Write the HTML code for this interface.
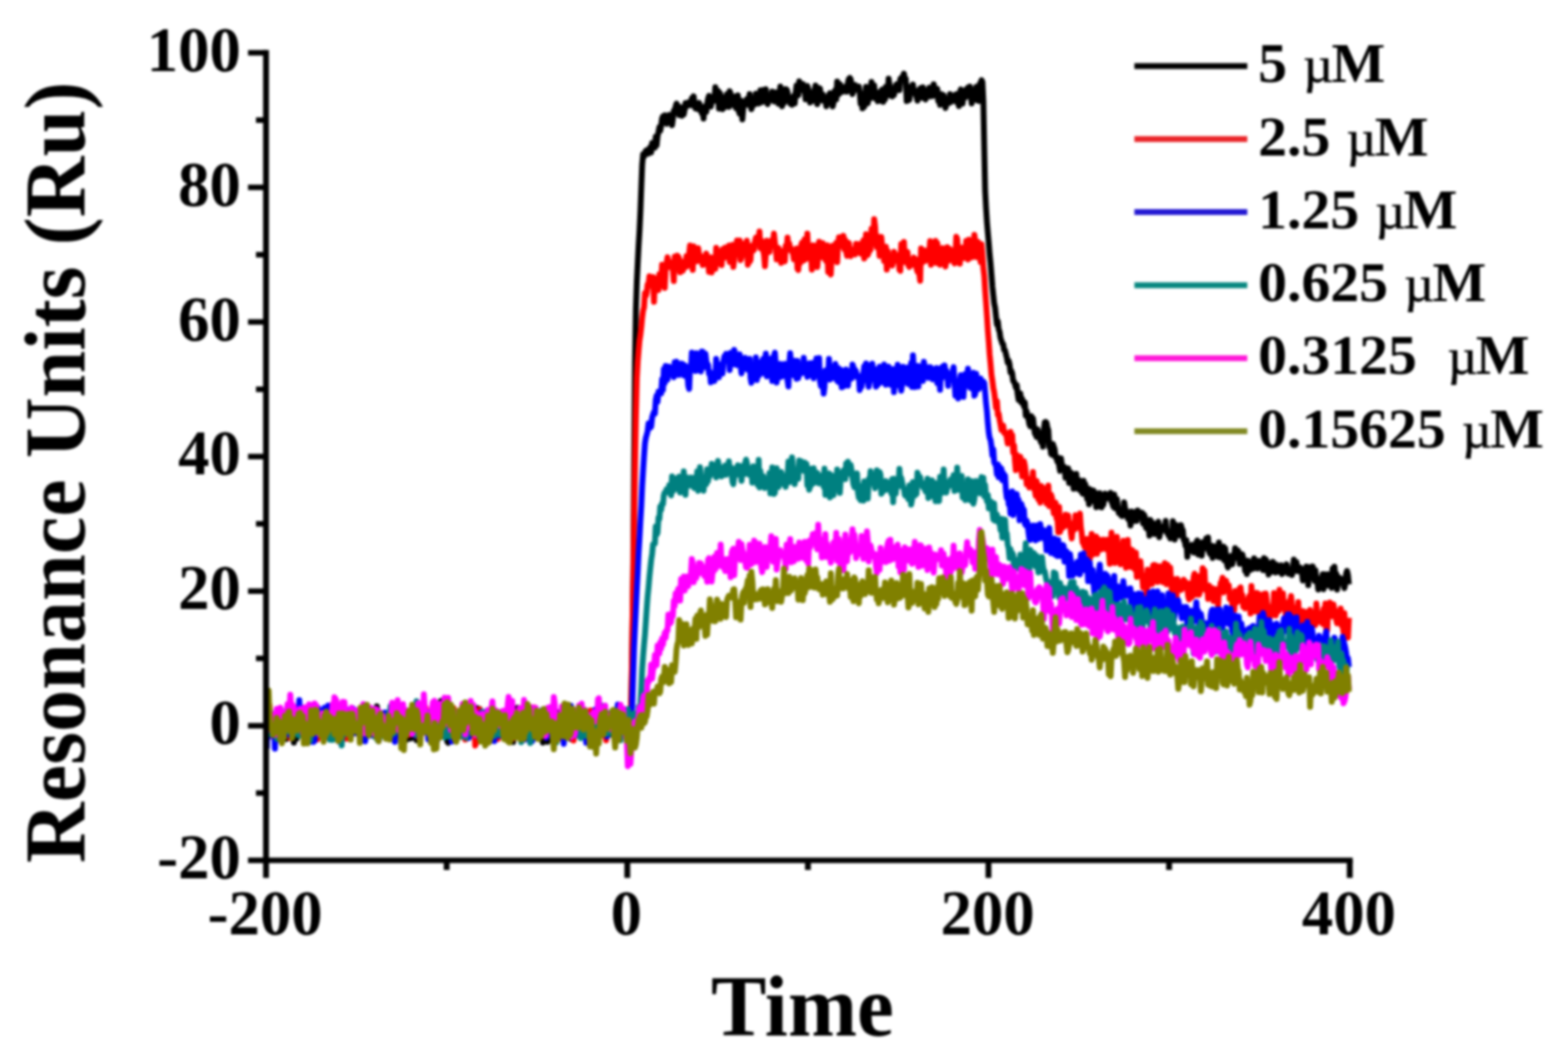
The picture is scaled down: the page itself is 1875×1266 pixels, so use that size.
<!DOCTYPE html>
<html lang="en">
<head>
<meta charset="utf-8">
<title>Resonance Units vs Time</title>
<style>
html,body{margin:0;padding:0;background:#fff;}
body{width:1875px;height:1266px;overflow:hidden;}
svg{display:block;filter:blur(1.5px);}
text{font-family:"Liberation Serif",serif;font-weight:bold;fill:#000;}
.tick{font-size:75px;}
.lab{font-size:100px;}
.leg{font-size:69px;}
.legm{font-size:68px;}
.mu{font-size:62px;font-weight:normal;stroke:#000;stroke-width:0.7px;}
.ax{stroke:#000;stroke-width:7;fill:none;stroke-linecap:butt;}
.tk{stroke:#000;stroke-width:6.6;fill:none;stroke-linecap:butt;}
.cv{fill:none;stroke-width:7;stroke-linejoin:round;stroke-linecap:butt;}
</style>
</head>
<body>
<svg width="1875" height="1266" viewBox="0 0 1875 1266">
<rect x="0" y="0" width="1875" height="1266" fill="#ffffff"/>
<g id="curves">
<polyline class="cv" stroke="#000000" points="319.0,862.4 320.1,867.2 321.2,862.6 322.2,847.7 323.3,868.7 324.4,865.0 325.5,855.9 326.6,867.0 327.6,865.1 328.7,865.6 329.8,863.8 330.9,869.5 332.0,858.0 333.0,863.7 334.1,861.4 335.2,872.6 336.3,868.4 337.3,866.3 338.4,861.9 339.5,867.0 340.6,870.2 341.7,868.1 342.7,883.4 343.8,881.3 344.9,851.3 346.0,856.1 347.1,870.8 348.1,868.4 349.2,874.4 350.3,873.7 351.4,887.8 352.5,858.5 353.5,863.9 354.6,883.3 355.7,871.0 356.8,870.4 357.9,858.9 358.9,849.0 360.0,866.0 361.1,865.6 362.2,852.7 363.2,856.6 364.3,862.2 365.4,853.7 366.5,861.3 367.6,862.6 368.6,861.9 369.7,856.2 370.8,867.4 371.9,871.3 373.0,867.6 374.0,858.5 375.1,875.3 376.2,865.5 377.3,881.0 378.4,863.7 379.4,883.5 380.5,874.9 381.6,862.8 382.7,869.8 383.8,871.6 384.8,872.1 385.9,858.9 387.0,856.5 388.1,868.6 389.1,861.8 390.2,868.9 391.3,874.4 392.4,853.3 393.5,870.4 394.5,879.7 395.6,865.4 396.7,861.0 397.8,876.3 398.9,871.1 399.9,876.8 401.0,864.5 402.1,854.1 403.2,865.3 404.3,860.1 405.3,871.3 406.4,864.1 407.5,846.4 408.6,849.6 409.7,868.5 410.7,867.3 411.8,855.4 412.9,862.7 414.0,868.0 415.0,869.3 416.1,874.1 417.2,869.7 418.3,867.3 419.4,865.4 420.4,878.6 421.5,850.8 422.6,868.4 423.7,870.5 424.8,856.5 425.8,872.3 426.9,862.5 428.0,877.1 429.1,866.6 430.2,874.2 431.2,878.6 432.3,870.5 433.4,859.1 434.5,854.8 435.6,884.3 436.6,867.8 437.7,863.7 438.8,872.3 439.9,869.1 440.9,879.5 442.0,871.0 443.1,870.2 444.2,861.7 445.3,872.5 446.3,856.6 447.4,871.9 448.5,878.7 449.6,850.5 450.7,844.4 451.7,869.5 452.8,884.6 453.9,856.1 455.0,854.0 456.1,871.9 457.1,857.8 458.2,860.3 459.3,860.8 460.4,868.1 461.5,857.2 462.5,863.3 463.6,858.9 464.7,853.3 465.8,860.6 466.9,856.5 467.9,867.3 469.0,858.5 470.1,859.8 471.2,883.7 472.2,869.2 473.3,869.3 474.4,873.9 475.5,863.5 476.6,864.6 477.6,871.0 478.7,869.1 479.8,855.2 480.9,874.1 482.0,860.0 483.0,856.5 484.1,858.8 485.2,864.9 486.3,884.3 487.4,859.7 488.4,874.0 489.5,855.4 490.6,874.2 491.7,882.8 492.8,871.4 493.8,867.1 494.9,874.3 496.0,877.3 497.1,875.3 498.1,885.0 499.2,869.8 500.3,860.6 501.4,864.6 502.5,865.3 503.5,867.8 504.6,865.8 505.7,867.9 506.8,850.1 507.9,872.1 508.9,857.4 510.0,850.7 511.1,867.7 512.2,873.4 513.3,866.9 514.3,864.0 515.4,854.7 516.5,885.6 517.6,873.8 518.7,854.6 519.7,857.2 520.8,865.6 521.9,849.6 523.0,864.2 524.0,856.1 525.1,871.5 526.2,867.8 527.3,837.9 528.4,859.7 529.4,846.3 530.5,873.3 531.6,866.5 532.7,871.9 533.8,858.7 534.8,886.4 535.9,888.0 537.0,860.8 538.1,874.6 539.2,863.5 540.2,869.7 541.3,857.4 542.4,885.5 543.5,860.2 544.6,865.8 545.6,873.5 546.7,861.9 547.8,865.9 548.9,863.1 549.9,867.9 551.0,858.1 552.1,865.4 553.2,868.5 554.3,867.5 555.3,871.4 556.4,867.6 557.5,878.5 558.6,867.8 559.7,871.1 560.7,866.7 561.8,868.4 562.9,862.2 564.0,878.3 565.1,861.8 566.1,863.1 567.2,872.3 568.3,870.9 569.4,860.9 570.5,846.4 571.5,866.2 572.6,863.9 573.7,847.8 574.8,868.3 575.8,854.5 576.9,851.3 578.0,864.0 579.1,862.7 580.2,867.4 581.2,852.2 582.3,883.0 583.4,861.9 584.5,854.1 585.6,874.8 586.6,865.3 587.7,871.4 588.8,865.3 589.9,868.3 591.0,871.4 592.0,862.5 593.1,877.5 594.2,867.3 595.3,864.5 596.4,874.9 597.4,878.0 598.5,870.6 599.6,864.4 600.7,877.2 601.8,854.1 602.8,859.7 603.9,869.1 605.0,856.0 606.1,869.1 607.1,868.7 608.2,878.1 609.3,860.5 610.4,862.7 611.5,870.8 612.5,846.7 613.6,887.1 614.7,857.2 615.8,856.0 616.9,870.2 617.9,861.5 619.0,845.9 620.1,867.9 621.2,871.0 622.3,859.2 623.3,861.7 624.4,869.6 625.5,856.9 626.6,869.9 627.7,866.9 628.7,857.7 629.8,849.9 630.9,859.9 632.0,852.3 633.0,868.7 634.1,860.2 635.2,866.0 636.3,859.4 637.4,862.0 638.4,853.4 639.5,870.0 640.6,882.0 641.7,866.5 642.8,866.2 643.8,873.2 644.9,871.4 646.0,870.2 647.1,877.4 648.2,872.5 649.2,887.8 650.3,874.5 651.4,877.3 652.5,883.0 653.6,870.8 654.6,886.9 655.7,867.0 656.8,865.5 657.9,869.7 658.9,871.5 660.0,859.4 661.1,871.3 662.2,856.4 663.3,882.5 664.3,867.6 665.4,860.2 666.5,855.9 667.6,859.6 668.7,859.6 669.7,851.1 670.8,851.0 671.9,858.2 673.0,855.0 674.1,869.5 675.1,872.0 676.2,862.9 677.3,868.9 678.4,853.6 679.5,872.8 680.5,867.6 681.6,873.8 682.7,883.3 683.8,850.2 684.8,870.9 685.9,857.7 687.0,873.1 688.1,854.7 689.2,861.2 690.2,867.7 691.3,871.4 692.4,866.0 693.5,858.0 694.6,860.9 695.6,875.3 696.7,867.6 697.8,853.7 698.9,878.4 700.0,875.6 701.0,879.8 702.1,867.9 703.2,879.4 704.3,861.4 705.4,875.7 706.4,864.9 707.5,875.9 708.6,878.1 709.7,860.2 710.7,865.8 711.8,865.3 712.9,875.2 714.0,869.3 715.1,849.5 716.1,864.6 717.2,867.3 718.3,878.1 719.4,845.8 720.5,855.8 721.5,873.3 722.6,849.1 723.7,849.9 724.8,866.0 725.9,870.8 726.9,854.5 728.0,866.8 729.1,864.0 730.2,877.9 731.3,865.4 732.3,875.6 733.4,857.9 734.5,865.5 735.6,866.8 736.7,877.6 737.7,871.2 738.8,858.5 739.9,871.5 741.0,871.7 742.0,863.5 743.1,862.7 744.2,864.2 745.3,852.8 746.4,870.0 747.4,871.5 748.5,860.7 749.6,876.4 750.7,858.6 751.8,861.6 752.8,859.9 753.9,861.4 755.0,832.9 756.1,766.9 757.2,688.0 758.2,565.1 759.3,433.7 760.4,369.2 761.5,336.9 762.6,314.3 763.6,294.5 764.7,276.1 765.8,252.6 766.9,222.9 767.9,197.4 769.0,184.6 770.1,187.2 771.2,182.7 772.3,180.3 773.3,181.2 774.4,179.2 775.5,183.7 776.6,181.2 777.7,175.8 778.7,182.2 779.8,171.1 780.9,174.3 782.0,173.1 783.1,176.4 784.1,163.4 785.2,173.6 786.3,162.7 787.4,157.7 788.5,152.1 789.5,156.4 790.6,150.4 791.7,141.4 792.8,139.1 793.8,140.2 794.9,137.8 796.0,147.0 797.1,148.0 798.2,145.2 799.2,142.0 800.3,137.3 801.4,139.8 802.5,144.6 803.6,149.7 804.6,142.2 805.7,132.6 806.8,132.7 807.9,127.5 809.0,123.8 810.0,126.4 811.1,128.5 812.2,137.6 813.3,128.1 814.4,136.4 815.4,138.4 816.5,128.4 817.6,136.8 818.7,131.1 819.7,123.3 820.8,127.4 821.9,125.1 823.0,122.5 824.1,122.2 825.1,123.8 826.2,125.8 827.3,117.5 828.4,123.3 829.5,115.1 830.5,126.6 831.6,129.7 832.7,127.1 833.8,127.9 834.9,130.5 835.9,122.9 837.0,126.2 838.1,131.7 839.2,135.4 840.3,131.5 841.3,141.7 842.4,127.5 843.5,133.1 844.6,133.6 845.6,123.8 846.7,118.1 847.8,114.7 848.9,122.5 850.0,127.4 851.0,121.3 852.1,119.8 853.2,115.3 854.3,120.6 855.4,104.2 856.4,117.5 857.5,116.3 858.6,108.7 859.7,129.9 860.8,111.0 861.8,114.3 862.9,115.3 864.0,130.5 865.1,118.1 866.2,128.4 867.2,127.1 868.3,123.5 869.4,112.5 870.5,115.0 871.6,127.7 872.6,109.1 873.7,112.1 874.8,117.2 875.9,124.3 876.9,122.4 878.0,126.4 879.1,115.6 880.2,129.2 881.3,127.5 882.3,114.1 883.4,132.8 884.5,136.0 885.6,119.9 886.7,128.4 887.7,142.7 888.8,129.3 889.9,124.4 891.0,121.0 892.1,120.2 893.1,118.3 894.2,125.3 895.3,122.6 896.4,112.5 897.5,123.7 898.5,130.5 899.6,126.7 900.7,125.3 901.8,119.1 902.8,124.7 903.9,112.0 905.0,123.0 906.1,116.7 907.2,123.7 908.2,118.7 909.3,108.0 910.4,115.2 911.5,122.1 912.6,107.6 913.6,111.2 914.7,110.0 915.8,106.6 916.9,122.5 918.0,124.4 919.0,120.9 920.1,117.0 921.2,114.2 922.3,115.8 923.4,109.5 924.4,120.2 925.5,121.2 926.6,120.1 927.7,110.4 928.7,114.3 929.8,112.5 930.9,124.0 932.0,115.1 933.1,103.6 934.1,117.8 935.2,127.0 936.3,121.6 937.4,123.2 938.5,117.7 939.5,106.6 940.6,107.0 941.7,110.0 942.8,117.4 943.9,121.0 944.9,123.7 946.0,117.2 947.1,125.3 948.2,117.4 949.3,114.5 950.3,123.6 951.4,111.2 952.5,102.2 953.6,108.0 954.6,114.1 955.7,97.2 956.8,108.1 957.9,107.3 959.0,100.5 960.0,100.4 961.1,106.4 962.2,106.9 963.3,118.8 964.4,114.5 965.4,102.8 966.5,106.5 967.6,116.7 968.7,122.5 969.8,113.3 970.8,112.3 971.9,120.7 973.0,109.4 974.1,108.0 975.2,102.3 976.2,108.5 977.3,124.6 978.4,105.0 979.5,113.9 980.5,105.7 981.6,115.5 982.7,120.2 983.8,112.6 984.9,119.7 985.9,120.5 987.0,119.2 988.1,127.1 989.2,122.9 990.3,116.1 991.3,113.3 992.4,111.5 993.5,119.0 994.6,113.0 995.7,127.3 996.7,122.7 997.8,109.4 998.9,107.6 1000.0,118.8 1001.1,97.4 1002.1,104.5 1003.2,112.8 1004.3,100.4 1005.4,103.1 1006.5,103.8 1007.5,109.8 1008.6,105.7 1009.7,106.6 1010.8,107.4 1011.8,103.1 1012.9,109.6 1014.0,98.3 1015.1,94.3 1016.2,93.2 1017.2,94.7 1018.3,101.2 1019.4,112.4 1020.5,108.2 1021.6,103.6 1022.6,101.6 1023.7,105.5 1024.8,107.4 1025.9,107.6 1027.0,103.5 1028.0,110.7 1029.1,123.9 1030.2,112.2 1031.3,129.5 1032.4,120.8 1033.4,128.0 1034.5,114.9 1035.6,103.7 1036.7,114.7 1037.7,123.5 1038.8,113.1 1039.9,118.4 1041.0,110.1 1042.1,98.1 1043.1,113.3 1044.2,107.6 1045.3,101.9 1046.4,117.6 1047.5,115.5 1048.5,111.3 1049.6,121.0 1050.7,110.5 1051.8,120.4 1052.9,109.4 1053.9,118.1 1055.0,107.0 1056.1,121.7 1057.2,113.3 1058.3,119.1 1059.3,103.7 1060.4,105.6 1061.5,113.7 1062.6,93.9 1063.6,100.8 1064.7,114.3 1065.8,111.1 1066.9,115.3 1068.0,107.1 1069.0,113.8 1070.1,105.5 1071.2,102.1 1072.3,100.6 1073.4,107.6 1074.4,107.8 1075.5,107.7 1076.6,94.3 1077.7,93.1 1078.8,92.3 1079.8,91.2 1080.9,88.0 1082.0,94.8 1083.1,94.2 1084.2,120.8 1085.2,103.0 1086.3,119.9 1087.4,119.2 1088.5,111.0 1089.5,104.7 1090.6,109.0 1091.7,100.9 1092.8,110.1 1093.9,108.5 1094.9,112.5 1096.0,115.6 1097.1,120.4 1098.2,108.3 1099.3,117.4 1100.3,105.6 1101.4,105.1 1102.5,106.4 1103.6,104.3 1104.7,117.2 1105.7,116.7 1106.8,118.8 1107.9,110.9 1109.0,113.0 1110.1,108.0 1111.1,104.8 1112.2,115.2 1113.3,113.8 1114.4,104.6 1115.4,114.8 1116.5,100.8 1117.6,109.6 1118.7,106.9 1119.8,108.5 1120.8,106.2 1121.9,120.6 1123.0,120.0 1124.1,125.4 1125.2,120.1 1126.2,112.6 1127.3,118.7 1128.4,113.9 1129.5,124.6 1130.6,129.2 1131.6,124.1 1132.7,118.6 1133.8,119.6 1134.9,123.1 1136.0,112.6 1137.0,122.0 1138.1,121.4 1139.2,116.3 1140.3,116.4 1141.4,120.2 1142.4,113.2 1143.5,112.7 1144.6,122.6 1145.7,118.3 1146.7,126.8 1147.8,110.6 1148.9,106.9 1150.0,123.4 1151.1,123.8 1152.1,112.9 1153.2,108.6 1154.3,116.8 1155.4,107.1 1156.5,114.8 1157.5,104.7 1158.6,114.5 1159.7,103.5 1160.8,113.1 1161.9,123.7 1162.9,112.6 1164.0,118.9 1165.1,109.2 1166.2,107.2 1167.3,103.9 1168.3,119.7 1169.4,112.5 1170.5,120.7 1171.6,100.2 1172.6,99.2 1173.7,95.8 1174.8,98.1 1175.9,121.2 1177.0,178.6 1178.0,227.5 1179.1,248.4 1180.2,265.6 1181.3,278.6 1182.4,290.9 1183.4,303.7 1184.5,314.6 1185.6,328.1 1186.7,342.6 1187.8,353.1 1188.8,362.5 1189.9,367.7 1191.0,378.2 1192.1,387.8 1193.2,384.0 1194.2,393.7 1195.3,396.4 1196.4,404.2 1197.5,407.3 1198.5,410.7 1199.6,411.4 1200.7,418.6 1201.8,418.7 1202.9,423.5 1203.9,427.3 1205.0,433.5 1206.1,431.1 1207.2,435.4 1208.3,445.1 1209.3,443.3 1210.4,446.4 1211.5,455.4 1212.6,456.4 1213.7,459.2 1214.7,463.3 1215.8,460.3 1216.9,471.1 1218.0,478.0 1219.1,477.8 1220.1,470.2 1221.2,480.9 1222.3,476.6 1223.4,481.8 1224.4,485.8 1225.5,481.1 1226.6,496.7 1227.7,491.4 1228.8,498.8 1229.8,501.0 1230.9,507.2 1232.0,509.6 1233.1,497.6 1234.2,508.5 1235.2,500.0 1236.3,509.8 1237.4,517.9 1238.5,519.8 1239.6,522.4 1240.6,513.2 1241.7,518.0 1242.8,517.7 1243.9,526.1 1245.0,528.9 1246.0,518.2 1247.1,534.1 1248.2,514.2 1249.3,504.8 1250.3,504.3 1251.4,505.3 1252.5,511.3 1253.6,514.2 1254.7,534.3 1255.7,531.5 1256.8,542.5 1257.9,543.6 1259.0,530.8 1260.1,534.3 1261.1,536.9 1262.2,546.6 1263.3,547.6 1264.4,551.8 1265.5,547.1 1266.5,556.4 1267.6,562.9 1268.7,548.0 1269.8,555.4 1270.9,559.2 1271.9,557.7 1273.0,558.3 1274.1,571.1 1275.2,570.2 1276.3,569.0 1277.3,559.9 1278.4,577.4 1279.5,569.5 1280.6,564.9 1281.6,568.1 1282.7,568.4 1283.8,584.3 1284.9,576.4 1286.0,576.6 1287.0,566.4 1288.1,584.0 1289.2,573.9 1290.3,574.0 1291.4,585.6 1292.4,576.9 1293.5,588.2 1294.6,590.1 1295.7,574.7 1296.8,585.4 1297.8,578.7 1298.9,589.2 1300.0,596.6 1301.1,584.1 1302.2,602.9 1303.2,590.8 1304.3,585.4 1305.4,592.5 1306.5,598.9 1307.5,586.4 1308.6,596.3 1309.7,589.2 1310.8,606.4 1311.9,601.0 1312.9,596.7 1314.0,605.4 1315.1,589.5 1316.2,594.1 1317.3,606.5 1318.3,594.0 1319.4,603.4 1320.5,596.1 1321.6,590.1 1322.7,593.2 1323.7,595.9 1324.8,592.9 1325.9,590.8 1327.0,591.5 1328.1,589.1 1329.1,599.6 1330.2,602.1 1331.3,605.6 1332.4,591.3 1333.4,607.6 1334.5,604.0 1335.6,596.5 1336.7,607.4 1337.8,613.1 1338.8,612.3 1339.9,614.6 1341.0,616.5 1342.1,616.9 1343.2,611.1 1344.2,600.4 1345.3,607.4 1346.4,615.6 1347.5,611.1 1348.6,619.7 1349.6,621.1 1350.7,617.0 1351.8,628.2 1352.9,611.5 1354.0,623.5 1355.0,614.5 1356.1,612.5 1357.2,621.2 1358.3,613.1 1359.3,622.8 1360.4,610.3 1361.5,617.7 1362.6,612.2 1363.7,616.7 1364.7,616.4 1365.8,613.0 1366.9,625.6 1368.0,615.2 1369.1,618.3 1370.1,630.4 1371.2,631.7 1372.3,630.5 1373.4,629.2 1374.5,640.3 1375.5,621.5 1376.6,625.1 1377.7,624.4 1378.8,636.9 1379.9,633.3 1380.9,638.4 1382.0,637.4 1383.1,629.2 1384.2,625.3 1385.2,623.7 1386.3,642.2 1387.4,636.8 1388.5,634.7 1389.6,629.6 1390.6,631.4 1391.7,631.7 1392.8,632.7 1393.9,622.8 1395.0,635.9 1396.0,634.8 1397.1,639.7 1398.2,639.6 1399.3,643.6 1400.4,637.6 1401.4,641.9 1402.5,623.0 1403.6,628.6 1404.7,645.1 1405.8,627.2 1406.8,632.4 1407.9,638.8 1409.0,629.2 1410.1,640.2 1411.2,628.0 1412.2,627.8 1413.3,632.6 1414.4,633.7 1415.5,645.8 1416.5,646.0 1417.6,652.3 1418.7,645.6 1419.8,665.7 1420.9,652.8 1421.9,654.6 1423.0,658.3 1424.1,654.0 1425.2,651.5 1426.3,655.9 1427.3,660.6 1428.4,658.3 1429.5,658.7 1430.6,648.1 1431.7,646.1 1432.7,662.9 1433.8,650.4 1434.9,656.3 1436.0,658.9 1437.1,664.3 1438.1,648.2 1439.2,653.5 1440.3,653.7 1441.4,654.7 1442.4,643.7 1443.5,655.6 1444.6,642.6 1445.7,659.2 1446.8,662.0 1447.8,662.9 1448.9,652.5 1450.0,667.0 1451.1,655.3 1452.2,653.1 1453.2,654.3 1454.3,655.0 1455.4,661.4 1456.5,665.6 1457.6,648.6 1458.6,657.1 1459.7,666.5 1460.8,663.0 1461.9,665.2 1463.0,653.6 1464.0,669.7 1465.1,655.5 1466.2,666.6 1467.3,674.9 1468.3,678.3 1469.4,671.7 1470.5,674.4 1471.6,664.7 1472.7,664.8 1473.7,674.7 1474.8,665.6 1475.9,663.7 1477.0,655.2 1478.1,664.0 1479.1,667.2 1480.2,657.9 1481.3,660.6 1482.4,673.9 1483.5,667.3 1484.5,666.0 1485.6,662.7 1486.7,667.4 1487.8,671.2 1488.9,682.4 1489.9,670.9 1491.0,686.3 1492.1,670.3 1493.2,674.3 1494.2,681.8 1495.3,675.2 1496.4,671.5 1497.5,676.1 1498.6,680.0 1499.6,667.4 1500.7,675.5 1501.8,675.9 1502.9,673.4 1504.0,679.7 1505.0,670.4 1506.1,671.3 1507.2,672.9 1508.3,677.2 1509.4,670.5 1510.4,681.4 1511.5,667.2 1512.6,681.5 1513.7,668.7 1514.8,673.8 1515.8,678.0 1516.9,686.9 1518.0,681.3 1519.1,672.9 1520.1,683.8 1521.2,674.8 1522.3,671.7 1523.4,680.2 1524.5,678.3 1525.5,684.4 1526.6,675.0 1527.7,681.8 1528.8,683.3 1529.9,681.6 1530.9,680.0 1532.0,675.7 1533.1,686.3 1534.2,682.0 1535.3,684.4 1536.3,678.7 1537.4,681.2 1538.5,674.6 1539.6,681.4 1540.7,685.8 1541.7,680.9 1542.8,685.8 1543.9,681.7 1545.0,687.4 1546.1,677.7 1547.1,669.1 1548.2,680.9 1549.3,677.0 1550.4,672.0 1551.4,682.8 1552.5,680.9 1553.6,682.8 1554.7,678.5 1555.8,682.5 1556.8,684.1 1557.9,693.9 1559.0,680.2 1560.1,685.5 1561.2,689.0 1562.2,677.3 1563.3,678.1 1564.4,699.5 1565.5,677.9 1566.6,691.6 1567.6,682.5 1568.7,683.3 1569.8,677.1 1570.9,682.8 1572.0,694.3 1573.0,681.8 1574.1,695.3 1575.2,694.8 1576.3,704.7 1577.3,691.7 1578.4,703.3 1579.5,701.8 1580.6,694.0 1581.7,686.5 1582.7,704.4 1583.8,686.6 1584.9,691.3 1586.0,699.4 1587.1,699.9 1588.1,686.6 1589.2,691.3 1590.3,688.9 1591.4,697.3 1592.5,702.7 1593.5,679.7 1594.6,696.6 1595.7,677.4 1596.8,692.2 1597.9,685.9 1598.9,704.9 1600.0,696.0 1601.1,690.3 1602.2,691.8 1603.2,691.5 1604.3,696.7 1605.4,693.9 1606.5,698.8 1607.6,703.1 1608.6,698.1 1609.7,685.7 1610.8,682.5 1611.9,687.5 1613.0,698.6"/>
<polyline class="cv" stroke="#ff0000" points="319.0,861.2 320.1,854.5 321.2,857.0 322.2,843.1 323.3,880.3 324.4,877.3 325.5,865.8 326.6,878.5 327.6,875.6 328.7,869.3 329.8,884.5 330.9,871.9 332.0,872.0 333.0,866.1 334.1,876.9 335.2,869.2 336.3,873.9 337.3,860.6 338.4,866.4 339.5,855.1 340.6,871.7 341.7,865.6 342.7,866.6 343.8,868.1 344.9,854.9 346.0,872.4 347.1,882.4 348.1,851.2 349.2,851.2 350.3,853.0 351.4,874.5 352.5,867.3 353.5,875.3 354.6,871.4 355.7,865.1 356.8,864.3 357.9,859.7 358.9,869.4 360.0,850.0 361.1,856.6 362.2,862.7 363.2,875.5 364.3,852.6 365.4,849.0 366.5,853.1 367.6,867.0 368.6,855.9 369.7,871.0 370.8,843.7 371.9,871.5 373.0,872.0 374.0,850.5 375.1,866.3 376.2,876.5 377.3,866.0 378.4,874.3 379.4,884.1 380.5,868.8 381.6,863.2 382.7,858.6 383.8,873.2 384.8,866.1 385.9,866.5 387.0,868.4 388.1,876.1 389.1,860.9 390.2,858.2 391.3,851.9 392.4,881.7 393.5,870.3 394.5,881.4 395.6,866.1 396.7,857.6 397.8,868.0 398.9,862.0 399.9,850.3 401.0,854.3 402.1,878.9 403.2,867.9 404.3,869.3 405.3,863.4 406.4,860.1 407.5,876.4 408.6,867.7 409.7,863.4 410.7,871.0 411.8,864.8 412.9,875.3 414.0,883.0 415.0,863.3 416.1,883.0 417.2,862.4 418.3,870.2 419.4,860.9 420.4,867.7 421.5,870.6 422.6,866.2 423.7,862.9 424.8,863.0 425.8,860.0 426.9,852.1 428.0,862.3 429.1,866.9 430.2,870.6 431.2,868.1 432.3,881.2 433.4,865.7 434.5,858.4 435.6,879.5 436.6,853.5 437.7,873.2 438.8,855.1 439.9,867.7 440.9,847.3 442.0,872.5 443.1,862.0 444.2,853.9 445.3,878.1 446.3,871.8 447.4,865.7 448.5,858.8 449.6,865.9 450.7,864.8 451.7,873.1 452.8,874.6 453.9,860.5 455.0,862.3 456.1,862.7 457.1,855.7 458.2,862.1 459.3,866.3 460.4,873.3 461.5,876.9 462.5,856.7 463.6,869.6 464.7,860.5 465.8,882.5 466.9,865.5 467.9,871.4 469.0,857.7 470.1,858.9 471.2,867.9 472.2,861.1 473.3,867.7 474.4,849.8 475.5,870.7 476.6,856.0 477.6,880.3 478.7,863.4 479.8,876.2 480.9,853.6 482.0,871.1 483.0,859.5 484.1,864.1 485.2,870.4 486.3,867.9 487.4,873.9 488.4,878.6 489.5,877.6 490.6,869.6 491.7,856.6 492.8,861.4 493.8,866.3 494.9,851.1 496.0,875.8 497.1,866.6 498.1,867.3 499.2,880.2 500.3,878.2 501.4,874.2 502.5,861.7 503.5,873.1 504.6,872.1 505.7,858.4 506.8,875.9 507.9,869.3 508.9,845.9 510.0,863.3 511.1,850.5 512.2,872.7 513.3,870.2 514.3,852.5 515.4,855.4 516.5,865.5 517.6,863.5 518.7,880.1 519.7,873.8 520.8,863.8 521.9,872.5 523.0,848.6 524.0,868.6 525.1,873.9 526.2,863.3 527.3,857.9 528.4,869.3 529.4,880.7 530.5,866.4 531.6,853.9 532.7,877.7 533.8,848.9 534.8,870.6 535.9,861.3 537.0,876.2 538.1,858.6 539.2,879.4 540.2,868.3 541.3,848.9 542.4,846.3 543.5,858.9 544.6,872.2 545.6,860.4 546.7,860.0 547.8,857.7 548.9,867.3 549.9,865.8 551.0,866.1 552.1,854.9 553.2,875.9 554.3,878.1 555.3,853.5 556.4,884.1 557.5,872.5 558.6,859.5 559.7,847.2 560.7,870.3 561.8,870.7 562.9,860.2 564.0,851.5 565.1,878.7 566.1,863.2 567.2,865.1 568.3,891.3 569.4,887.6 570.5,878.6 571.5,864.2 572.6,873.7 573.7,848.1 574.8,867.4 575.8,858.3 576.9,853.1 578.0,851.6 579.1,871.5 580.2,868.1 581.2,870.3 582.3,879.3 583.4,864.2 584.5,861.9 585.6,858.3 586.6,870.6 587.7,880.2 588.8,869.7 589.9,876.0 591.0,857.0 592.0,862.9 593.1,859.7 594.2,855.4 595.3,883.4 596.4,876.8 597.4,862.0 598.5,863.1 599.6,871.4 600.7,859.0 601.8,876.6 602.8,859.2 603.9,866.9 605.0,861.1 606.1,865.5 607.1,857.7 608.2,856.0 609.3,860.7 610.4,862.8 611.5,866.2 612.5,869.9 613.6,882.9 614.7,876.0 615.8,864.8 616.9,873.6 617.9,859.6 619.0,879.5 620.1,871.6 621.2,853.8 622.3,873.9 623.3,875.0 624.4,846.5 625.5,858.9 626.6,860.5 627.7,848.0 628.7,853.7 629.8,854.6 630.9,868.1 632.0,865.3 633.0,881.9 634.1,857.6 635.2,872.1 636.3,862.0 637.4,864.1 638.4,850.6 639.5,845.8 640.6,855.4 641.7,870.2 642.8,877.5 643.8,869.6 644.9,868.7 646.0,855.5 647.1,877.1 648.2,877.0 649.2,860.3 650.3,866.3 651.4,857.9 652.5,881.3 653.6,872.4 654.6,867.2 655.7,871.9 656.8,871.6 657.9,862.5 658.9,855.0 660.0,855.2 661.1,851.6 662.2,871.0 663.3,884.4 664.3,852.1 665.4,870.3 666.5,874.1 667.6,861.6 668.7,873.4 669.7,861.0 670.8,882.3 671.9,864.5 673.0,870.8 674.1,875.2 675.1,863.4 676.2,851.0 677.3,860.9 678.4,873.0 679.5,865.2 680.5,870.0 681.6,857.9 682.7,870.2 683.8,877.0 684.8,869.8 685.9,885.2 687.0,865.4 688.1,856.9 689.2,850.9 690.2,875.6 691.3,863.7 692.4,873.7 693.5,868.2 694.6,878.5 695.6,876.3 696.7,860.7 697.8,867.9 698.9,874.8 700.0,853.4 701.0,878.5 702.1,875.9 703.2,873.5 704.3,860.6 705.4,864.4 706.4,849.3 707.5,860.2 708.6,853.5 709.7,861.2 710.7,856.8 711.8,867.1 712.9,877.6 714.0,856.2 715.1,878.6 716.1,854.7 717.2,854.5 718.3,872.3 719.4,874.1 720.5,879.2 721.5,860.5 722.6,874.8 723.7,875.7 724.8,885.1 725.9,870.4 726.9,874.9 728.0,858.7 729.1,864.9 730.2,861.7 731.3,872.0 732.3,855.0 733.4,855.3 734.5,868.7 735.6,878.2 736.7,866.4 737.7,866.2 738.8,859.1 739.9,872.8 741.0,867.8 742.0,878.3 743.1,865.9 744.2,853.3 745.3,857.0 746.4,852.9 747.4,850.5 748.5,874.4 749.6,870.2 750.7,850.6 751.8,876.1 752.8,862.4 753.9,859.1 755.0,829.1 756.1,758.9 757.2,691.6 758.2,627.1 759.3,559.0 760.4,497.3 761.5,452.0 762.6,432.0 763.6,419.4 764.7,407.1 765.8,400.1 766.9,390.7 767.9,379.8 769.0,371.4 770.1,367.5 771.2,350.5 772.3,353.7 773.3,350.1 774.4,340.0 775.5,339.6 776.6,330.2 777.7,333.4 778.7,339.2 779.8,342.1 780.9,331.3 782.0,360.8 783.1,334.6 784.1,340.5 785.2,335.9 786.3,332.7 787.4,346.8 788.5,327.8 789.5,341.8 790.6,338.7 791.7,316.6 792.8,334.8 793.8,317.9 794.9,344.2 796.0,320.1 797.1,314.9 798.2,307.5 799.2,313.1 800.3,319.2 801.4,315.6 802.5,313.6 803.6,317.6 804.6,322.2 805.7,336.0 806.8,306.8 807.9,315.7 809.0,311.0 810.0,305.6 811.1,306.8 812.2,309.7 813.3,325.5 814.4,316.3 815.4,312.8 816.5,323.7 817.6,320.0 818.7,314.6 819.7,319.4 820.8,306.2 821.9,318.3 823.0,314.9 824.1,303.2 825.1,293.5 826.2,316.4 827.3,302.2 828.4,322.7 829.5,294.6 830.5,310.2 831.6,298.2 832.7,305.7 833.8,312.3 834.9,296.8 835.9,303.7 837.0,306.6 838.1,306.1 839.2,311.2 840.3,316.7 841.3,316.5 842.4,312.2 843.5,308.4 844.6,303.1 845.6,309.0 846.7,311.6 847.8,324.9 848.9,315.2 850.0,307.8 851.0,325.8 852.1,311.5 853.2,311.2 854.3,315.5 855.4,321.4 856.4,296.3 857.5,303.8 858.6,315.0 859.7,308.4 860.8,301.1 861.8,301.3 862.9,317.0 864.0,297.9 865.1,308.5 866.2,308.3 867.2,295.9 868.3,306.1 869.4,297.8 870.5,297.0 871.6,293.5 872.6,313.3 873.7,300.4 874.8,298.2 875.9,292.7 876.9,319.1 878.0,309.7 879.1,300.8 880.2,295.3 881.3,287.5 882.3,304.1 883.4,303.9 884.5,287.5 885.6,311.0 886.7,307.6 887.7,291.2 888.8,294.9 889.9,297.1 891.0,303.4 892.1,301.1 893.1,287.8 894.2,316.4 895.3,305.8 896.4,313.0 897.5,310.7 898.5,293.8 899.6,297.1 900.7,299.6 901.8,298.1 902.8,288.7 903.9,284.1 905.0,290.7 906.1,283.3 907.2,286.7 908.2,276.7 909.3,296.8 910.4,287.6 911.5,293.9 912.6,299.7 913.6,304.4 914.7,318.2 915.8,303.4 916.9,287.7 918.0,300.8 919.0,292.7 920.1,301.3 921.2,289.0 922.3,287.7 923.4,289.2 924.4,288.2 925.5,279.3 926.6,290.0 927.7,297.7 928.7,310.1 929.8,296.8 930.9,296.6 932.0,306.6 933.1,306.0 934.1,314.3 935.2,305.8 936.3,299.9 937.4,311.8 938.5,312.4 939.5,293.9 940.6,299.8 941.7,283.9 942.8,295.5 943.9,291.2 944.9,297.9 946.0,296.9 947.1,301.2 948.2,302.3 949.3,310.0 950.3,308.6 951.4,302.2 952.5,297.1 953.6,321.3 954.6,322.8 955.7,305.7 956.8,314.5 957.9,293.3 959.0,290.1 960.0,298.8 961.1,311.4 962.2,285.9 963.3,287.0 964.4,309.4 965.4,279.2 966.5,302.9 967.6,303.2 968.7,297.6 969.8,302.4 970.8,322.4 971.9,293.3 973.0,302.4 974.1,304.0 975.2,299.9 976.2,293.6 977.3,319.3 978.4,307.2 979.5,289.0 980.5,296.4 981.6,307.4 982.7,307.0 983.8,290.8 984.9,303.4 985.9,307.8 987.0,310.6 988.1,312.3 989.2,293.2 990.3,325.2 991.3,311.3 992.4,324.4 993.5,328.2 994.6,305.1 995.7,293.8 996.7,311.3 997.8,300.0 998.9,296.6 1000.0,290.4 1001.1,313.4 1002.1,293.1 1003.2,283.7 1004.3,291.2 1005.4,283.6 1006.5,294.2 1007.5,288.3 1008.6,281.9 1009.7,298.0 1010.8,286.9 1011.8,300.8 1012.9,305.9 1014.0,292.0 1015.1,290.5 1016.2,299.8 1017.2,306.2 1018.3,298.2 1019.4,300.2 1020.5,298.6 1021.6,301.6 1022.6,304.2 1023.7,291.5 1024.8,293.3 1025.9,298.7 1027.0,291.9 1028.0,299.0 1029.1,303.2 1030.2,297.6 1031.3,290.6 1032.4,287.3 1033.4,309.1 1034.5,300.9 1035.6,280.0 1036.7,281.3 1037.7,304.9 1038.8,301.9 1039.9,289.7 1041.0,298.7 1042.1,273.5 1043.1,285.3 1044.2,288.2 1045.3,262.0 1046.4,270.3 1047.5,288.3 1048.5,295.4 1049.6,282.8 1050.7,293.6 1051.8,305.9 1052.9,290.2 1053.9,283.3 1055.0,296.2 1056.1,295.1 1057.2,311.9 1058.3,303.7 1059.3,294.9 1060.4,322.3 1061.5,300.3 1062.6,310.6 1063.6,313.8 1064.7,317.0 1065.8,312.5 1066.9,317.5 1068.0,312.1 1069.0,300.9 1070.1,311.3 1071.2,310.5 1072.3,310.2 1073.4,312.4 1074.4,304.7 1075.5,322.5 1076.6,323.8 1077.7,291.8 1078.8,309.8 1079.8,302.7 1080.9,289.2 1082.0,313.2 1083.1,302.3 1084.2,303.7 1085.2,301.2 1086.3,317.3 1087.4,319.1 1088.5,311.3 1089.5,317.0 1090.6,310.7 1091.7,314.7 1092.8,307.9 1093.9,316.9 1094.9,309.7 1096.0,321.1 1097.1,324.8 1098.2,319.1 1099.3,327.2 1100.3,335.7 1101.4,296.9 1102.5,314.1 1103.6,307.4 1104.7,308.4 1105.7,299.6 1106.8,312.0 1107.9,307.8 1109.0,303.1 1110.1,305.8 1111.1,302.0 1112.2,288.2 1113.3,316.5 1114.4,302.6 1115.4,296.3 1116.5,309.0 1117.6,299.8 1118.7,288.0 1119.8,314.3 1120.8,290.8 1121.9,302.8 1123.0,305.6 1124.1,316.4 1125.2,314.8 1126.2,305.1 1127.3,296.6 1128.4,299.9 1129.5,313.3 1130.6,318.6 1131.6,307.4 1132.7,295.5 1133.8,312.0 1134.9,298.4 1136.0,297.8 1137.0,300.0 1138.1,308.4 1139.2,305.8 1140.3,312.8 1141.4,314.9 1142.4,308.0 1143.5,283.0 1144.6,285.2 1145.7,300.2 1146.7,297.1 1147.8,315.2 1148.9,297.4 1150.0,296.3 1151.1,307.5 1152.1,308.4 1153.2,296.2 1154.3,303.3 1155.4,288.0 1156.5,289.1 1157.5,310.2 1158.6,286.5 1159.7,308.2 1160.8,305.9 1161.9,306.0 1162.9,307.2 1164.0,303.8 1165.1,280.8 1166.2,288.9 1167.3,292.4 1168.3,307.5 1169.4,288.9 1170.5,293.4 1171.6,297.3 1172.6,313.3 1173.7,291.9 1174.8,304.5 1175.9,320.7 1177.0,329.9 1178.0,347.0 1179.1,362.1 1180.2,377.8 1181.3,395.6 1182.4,409.3 1183.4,423.5 1184.5,435.2 1185.6,448.1 1186.7,455.1 1187.8,464.0 1188.8,468.7 1189.9,477.2 1191.0,487.3 1192.1,479.6 1193.2,495.7 1194.2,494.4 1195.3,501.8 1196.4,507.4 1197.5,513.9 1198.5,511.5 1199.6,508.7 1200.7,517.2 1201.8,516.9 1202.9,517.7 1203.9,523.3 1205.0,530.3 1206.1,524.3 1207.2,525.7 1208.3,516.3 1209.3,528.1 1210.4,520.2 1211.5,540.7 1212.6,532.6 1213.7,551.3 1214.7,562.1 1215.8,543.8 1216.9,559.3 1218.0,553.6 1219.1,547.0 1220.1,546.1 1221.2,560.6 1222.3,569.5 1223.4,564.0 1224.4,551.3 1225.5,556.3 1226.6,564.9 1227.7,579.0 1228.8,572.2 1229.8,573.6 1230.9,582.8 1232.0,572.5 1233.1,574.9 1234.2,575.7 1235.2,564.3 1236.3,584.5 1237.4,586.0 1238.5,592.7 1239.6,575.0 1240.6,579.9 1241.7,597.0 1242.8,591.8 1243.9,600.9 1245.0,581.0 1246.0,591.4 1247.1,583.0 1248.2,592.8 1249.3,585.2 1250.3,596.3 1251.4,601.8 1252.5,599.3 1253.6,580.4 1254.7,605.1 1255.7,603.0 1256.8,591.2 1257.9,594.7 1259.0,605.4 1260.1,613.7 1261.1,608.0 1262.2,601.0 1263.3,619.5 1264.4,619.3 1265.5,636.4 1266.5,605.9 1267.6,636.0 1268.7,631.4 1269.8,619.8 1270.9,630.8 1271.9,618.8 1273.0,628.9 1274.1,615.2 1275.2,625.8 1276.3,618.2 1277.3,616.2 1278.4,628.6 1279.5,625.4 1280.6,637.5 1281.6,643.7 1282.7,630.8 1283.8,632.1 1284.9,633.0 1286.0,616.0 1287.0,631.4 1288.1,628.6 1289.2,628.3 1290.3,619.0 1291.4,613.9 1292.4,629.8 1293.5,637.4 1294.6,648.9 1295.7,649.3 1296.8,653.7 1297.8,646.7 1298.9,655.7 1300.0,644.3 1301.1,653.1 1302.2,656.7 1303.2,668.5 1304.3,651.5 1305.4,638.2 1306.5,663.0 1307.5,643.4 1308.6,650.3 1309.7,647.9 1310.8,641.5 1311.9,662.1 1312.9,656.3 1314.0,644.7 1315.1,651.3 1316.2,646.7 1317.3,656.7 1318.3,647.4 1319.4,645.1 1320.5,647.3 1321.6,649.6 1322.7,656.5 1323.7,645.2 1324.8,653.5 1325.9,658.9 1327.0,674.1 1328.1,664.5 1329.1,636.7 1330.2,653.0 1331.3,654.6 1332.4,662.3 1333.4,673.1 1334.5,667.2 1335.6,641.7 1336.7,663.9 1337.8,662.6 1338.8,665.7 1339.9,674.6 1341.0,651.4 1342.1,672.4 1343.2,646.6 1344.2,662.0 1345.3,664.7 1346.4,678.7 1347.5,653.4 1348.6,645.5 1349.6,667.9 1350.7,655.9 1351.8,677.8 1352.9,657.6 1354.0,657.7 1355.0,678.5 1356.1,670.2 1357.2,680.7 1358.3,660.7 1359.3,689.7 1360.4,672.0 1361.5,686.8 1362.6,672.4 1363.7,670.9 1364.7,683.4 1365.8,688.9 1366.9,702.2 1368.0,692.1 1369.1,696.7 1370.1,695.7 1371.2,710.6 1372.3,681.0 1373.4,699.6 1374.5,685.9 1375.5,689.1 1376.6,681.9 1377.7,698.1 1378.8,675.7 1379.9,675.3 1380.9,684.9 1382.0,676.0 1383.1,693.8 1384.2,695.7 1385.2,678.5 1386.3,692.1 1387.4,677.1 1388.5,682.0 1389.6,680.9 1390.6,696.1 1391.7,680.5 1392.8,673.3 1393.9,675.2 1395.0,698.4 1396.0,675.2 1397.1,688.0 1398.2,691.7 1399.3,678.4 1400.4,695.0 1401.4,710.6 1402.5,703.5 1403.6,692.5 1404.7,706.7 1405.8,704.0 1406.8,715.7 1407.9,691.9 1409.0,695.6 1410.1,700.6 1411.2,700.5 1412.2,705.3 1413.3,704.2 1414.4,699.5 1415.5,693.0 1416.5,702.5 1417.6,695.4 1418.7,698.5 1419.8,703.3 1420.9,713.1 1421.9,716.5 1423.0,697.5 1424.1,710.6 1425.2,714.0 1426.3,704.7 1427.3,690.0 1428.4,685.7 1429.5,710.7 1430.6,710.8 1431.7,703.2 1432.7,688.9 1433.8,711.1 1434.9,707.7 1436.0,695.0 1437.1,693.1 1438.1,679.3 1439.2,703.9 1440.3,682.1 1441.4,704.0 1442.4,705.9 1443.5,701.3 1444.6,715.9 1445.7,700.0 1446.8,710.5 1447.8,713.8 1448.9,709.5 1450.0,703.1 1451.1,718.6 1452.2,711.1 1453.2,704.8 1454.3,704.5 1455.4,706.9 1456.5,724.7 1457.6,707.1 1458.6,704.4 1459.7,696.7 1460.8,695.5 1461.9,690.6 1463.0,708.3 1464.0,706.4 1465.1,696.8 1466.2,694.2 1467.3,705.5 1468.3,705.2 1469.4,699.8 1470.5,716.0 1471.6,715.6 1472.7,714.5 1473.7,723.8 1474.8,710.3 1475.9,729.2 1477.0,706.5 1478.1,720.5 1479.1,720.1 1480.2,711.7 1481.3,718.2 1482.4,703.1 1483.5,702.2 1484.5,714.9 1485.6,711.0 1486.7,725.2 1487.8,720.7 1488.9,727.2 1489.9,723.8 1491.0,721.8 1492.1,719.8 1493.2,714.3 1494.2,712.1 1495.3,733.5 1496.4,700.6 1497.5,714.2 1498.6,726.4 1499.6,721.4 1500.7,730.9 1501.8,724.4 1502.9,708.8 1504.0,718.7 1505.0,710.1 1506.1,733.0 1507.2,737.8 1508.3,720.3 1509.4,729.3 1510.4,719.6 1511.5,710.0 1512.6,718.9 1513.7,709.5 1514.8,718.5 1515.8,727.2 1516.9,733.3 1518.0,740.1 1519.1,725.7 1520.1,731.9 1521.2,733.9 1522.3,734.9 1523.4,708.9 1524.5,721.8 1525.5,735.8 1526.6,716.3 1527.7,727.6 1528.8,731.0 1529.9,705.1 1530.9,718.2 1532.0,722.5 1533.1,721.5 1534.2,709.6 1535.3,728.3 1536.3,720.9 1537.4,734.6 1538.5,731.3 1539.6,721.3 1540.7,727.2 1541.7,718.8 1542.8,719.2 1543.9,712.5 1545.0,725.2 1546.1,736.9 1547.1,731.3 1548.2,731.3 1549.3,726.5 1550.4,728.3 1551.4,740.4 1552.5,719.8 1553.6,750.4 1554.7,732.4 1555.8,751.8 1556.8,744.6 1557.9,730.4 1559.0,742.1 1560.1,737.8 1561.2,739.7 1562.2,743.5 1563.3,731.6 1564.4,732.4 1565.5,735.7 1566.6,729.1 1567.6,739.8 1568.7,746.1 1569.8,745.1 1570.9,743.7 1572.0,736.6 1573.0,747.2 1574.1,721.6 1575.2,732.9 1576.3,732.2 1577.3,743.2 1578.4,741.2 1579.5,743.1 1580.6,736.1 1581.7,745.9 1582.7,728.0 1583.8,738.7 1584.9,721.5 1586.0,754.2 1587.1,753.6 1588.1,732.8 1589.2,729.8 1590.3,720.3 1591.4,723.1 1592.5,736.8 1593.5,733.8 1594.6,722.4 1595.7,730.5 1596.8,730.1 1597.9,741.6 1598.9,745.2 1600.0,737.4 1601.1,742.1 1602.2,742.5 1603.2,727.5 1604.3,747.8 1605.4,746.2 1606.5,755.4 1607.6,733.1 1608.6,756.3 1609.7,743.7 1610.8,753.1 1611.9,762.2 1613.0,738.5"/>
<polyline class="cv" stroke="#0000ff" points="319.0,895.2 320.1,855.7 321.2,880.4 322.2,869.2 323.3,869.8 324.4,871.6 325.5,854.9 326.6,870.4 327.6,863.2 328.7,895.0 329.8,871.8 330.9,864.3 332.0,864.2 333.0,859.6 334.1,855.5 335.2,861.4 336.3,871.2 337.3,862.6 338.4,874.5 339.5,862.2 340.6,863.6 341.7,878.0 342.7,867.6 343.8,856.6 344.9,859.8 346.0,867.8 347.1,879.2 348.1,858.8 349.2,859.0 350.3,871.0 351.4,851.3 352.5,856.2 353.5,867.7 354.6,864.3 355.7,859.0 356.8,865.1 357.9,836.9 358.9,870.3 360.0,851.7 361.1,847.2 362.2,867.6 363.2,873.7 364.3,864.8 365.4,859.8 366.5,871.6 367.6,872.4 368.6,886.4 369.7,880.8 370.8,875.6 371.9,886.7 373.0,876.5 374.0,872.0 375.1,887.0 376.2,885.5 377.3,873.0 378.4,862.9 379.4,871.1 380.5,846.4 381.6,873.4 382.7,870.2 383.8,849.6 384.8,864.6 385.9,854.3 387.0,871.7 388.1,846.0 389.1,854.2 390.2,870.0 391.3,873.6 392.4,843.5 393.5,857.9 394.5,867.4 395.6,858.6 396.7,881.0 397.8,853.7 398.9,870.2 399.9,856.7 401.0,880.7 402.1,867.6 403.2,864.3 404.3,854.0 405.3,886.4 406.4,878.8 407.5,878.7 408.6,881.8 409.7,872.4 410.7,860.6 411.8,857.4 412.9,855.8 414.0,876.3 415.0,848.5 416.1,856.2 417.2,858.9 418.3,865.2 419.4,869.2 420.4,850.7 421.5,846.5 422.6,863.0 423.7,876.4 424.8,873.5 425.8,869.6 426.9,865.0 428.0,872.8 429.1,867.2 430.2,877.6 431.2,861.8 432.3,870.4 433.4,867.0 434.5,872.7 435.6,868.6 436.6,886.3 437.7,879.4 438.8,878.9 439.9,847.1 440.9,862.1 442.0,860.0 443.1,871.9 444.2,847.7 445.3,879.3 446.3,878.9 447.4,855.8 448.5,858.4 449.6,860.4 450.7,869.0 451.7,874.8 452.8,885.8 453.9,865.5 455.0,874.4 456.1,866.7 457.1,879.6 458.2,870.1 459.3,875.3 460.4,851.7 461.5,859.7 462.5,854.0 463.6,877.5 464.7,870.2 465.8,860.6 466.9,859.3 467.9,869.9 469.0,858.3 470.1,856.6 471.2,871.1 472.2,886.9 473.3,864.2 474.4,861.8 475.5,856.1 476.6,855.3 477.6,873.4 478.7,876.0 479.8,866.6 480.9,869.2 482.0,867.0 483.0,866.1 484.1,849.3 485.2,858.4 486.3,863.2 487.4,853.1 488.4,855.9 489.5,853.4 490.6,858.2 491.7,870.9 492.8,858.5 493.8,861.2 494.9,872.0 496.0,870.4 497.1,879.3 498.1,844.6 499.2,871.5 500.3,857.6 501.4,863.2 502.5,869.6 503.5,871.9 504.6,871.1 505.7,862.3 506.8,875.4 507.9,858.1 508.9,860.3 510.0,870.9 511.1,858.2 512.2,883.9 513.3,876.3 514.3,885.6 515.4,865.5 516.5,862.0 517.6,867.4 518.7,873.1 519.7,860.3 520.8,871.4 521.9,868.5 523.0,884.9 524.0,863.3 525.1,880.7 526.2,862.5 527.3,858.5 528.4,858.8 529.4,853.4 530.5,865.7 531.6,873.6 532.7,864.2 533.8,868.1 534.8,876.8 535.9,865.7 537.0,867.9 538.1,868.4 539.2,861.1 540.2,886.5 541.3,859.4 542.4,878.1 543.5,867.1 544.6,876.5 545.6,865.5 546.7,858.6 547.8,871.9 548.9,864.0 549.9,868.4 551.0,871.5 552.1,870.9 553.2,870.5 554.3,863.9 555.3,869.8 556.4,852.5 557.5,868.9 558.6,857.5 559.7,880.7 560.7,882.2 561.8,852.9 562.9,872.5 564.0,869.3 565.1,860.6 566.1,876.9 567.2,866.9 568.3,855.4 569.4,868.0 570.5,868.9 571.5,870.6 572.6,856.3 573.7,872.8 574.8,871.7 575.8,850.9 576.9,853.9 578.0,858.9 579.1,852.4 580.2,874.8 581.2,861.2 582.3,850.1 583.4,854.4 584.5,864.1 585.6,886.0 586.6,865.8 587.7,869.6 588.8,873.7 589.9,866.9 591.0,886.0 592.0,860.4 593.1,872.1 594.2,865.2 595.3,869.7 596.4,851.4 597.4,879.6 598.5,862.3 599.6,863.8 600.7,853.4 601.8,854.5 602.8,868.1 603.9,871.8 605.0,869.4 606.1,873.1 607.1,868.6 608.2,861.4 609.3,868.1 610.4,865.1 611.5,856.3 612.5,863.9 613.6,868.3 614.7,858.6 615.8,853.5 616.9,865.8 617.9,876.1 619.0,858.2 620.1,860.5 621.2,861.7 622.3,876.3 623.3,849.0 624.4,871.4 625.5,880.2 626.6,860.9 627.7,884.2 628.7,876.0 629.8,864.9 630.9,873.3 632.0,856.9 633.0,865.4 634.1,887.3 635.2,861.5 636.3,886.1 637.4,867.2 638.4,877.1 639.5,867.7 640.6,847.3 641.7,860.4 642.8,868.0 643.8,853.9 644.9,852.2 646.0,869.1 647.1,858.0 648.2,848.9 649.2,857.2 650.3,873.3 651.4,860.9 652.5,875.6 653.6,882.1 654.6,868.8 655.7,857.9 656.8,856.9 657.9,868.4 658.9,877.7 660.0,872.4 661.1,875.2 662.2,864.8 663.3,873.2 664.3,864.8 665.4,865.9 666.5,857.0 667.6,854.4 668.7,863.7 669.7,856.9 670.8,858.3 671.9,874.8 673.0,865.7 674.1,889.2 675.1,876.4 676.2,860.8 677.3,875.7 678.4,872.0 679.5,861.1 680.5,878.7 681.6,859.6 682.7,843.8 683.8,873.7 684.8,857.6 685.9,877.3 687.0,855.6 688.1,849.3 689.2,875.3 690.2,849.6 691.3,863.4 692.4,876.0 693.5,864.7 694.6,864.5 695.6,868.7 696.7,877.3 697.8,861.0 698.9,875.4 700.0,874.1 701.0,887.9 702.1,863.5 703.2,857.6 704.3,874.1 705.4,861.6 706.4,869.0 707.5,867.0 708.6,877.9 709.7,860.3 710.7,866.9 711.8,848.2 712.9,861.4 714.0,886.4 715.1,865.1 716.1,865.6 717.2,860.4 718.3,877.9 719.4,872.0 720.5,856.3 721.5,873.5 722.6,868.6 723.7,872.8 724.8,857.8 725.9,880.5 726.9,867.9 728.0,862.0 729.1,856.4 730.2,858.3 731.3,868.6 732.3,856.0 733.4,869.0 734.5,864.1 735.6,871.5 736.7,866.7 737.7,857.7 738.8,842.3 739.9,863.1 741.0,868.9 742.0,863.3 743.1,868.8 744.2,859.1 745.3,860.7 746.4,855.1 747.4,877.9 748.5,865.7 749.6,858.1 750.7,849.9 751.8,860.3 752.8,872.5 753.9,861.8 755.0,857.3 756.1,841.2 757.2,805.2 758.2,774.5 759.3,750.1 760.4,727.1 761.5,704.5 762.6,683.3 763.6,661.7 764.7,643.3 765.8,623.1 766.9,604.5 767.9,581.6 769.0,563.2 770.1,545.8 771.2,530.1 772.3,523.4 773.3,519.9 774.4,515.5 775.5,506.1 776.6,505.7 777.7,511.4 778.7,509.9 779.8,499.2 780.9,495.4 782.0,492.6 783.1,494.5 784.1,478.3 785.2,473.0 786.3,480.4 787.4,468.2 788.5,468.5 789.5,470.3 790.6,470.3 791.7,453.6 792.8,466.1 793.8,441.3 794.9,457.9 796.0,437.5 797.1,438.0 798.2,453.8 799.2,442.6 800.3,438.4 801.4,440.0 802.5,447.3 803.6,441.9 804.6,441.3 805.7,450.9 806.8,433.0 807.9,434.1 809.0,432.5 810.0,448.0 811.1,445.8 812.2,448.0 813.3,435.4 814.4,434.7 815.4,445.6 816.5,435.2 817.6,448.7 818.7,449.2 819.7,437.3 820.8,444.1 821.9,443.9 823.0,460.9 824.1,465.0 825.1,442.2 826.2,441.4 827.3,421.4 828.4,440.5 829.5,437.3 830.5,426.4 831.6,443.5 832.7,422.2 833.8,433.8 834.9,437.4 835.9,424.4 837.0,443.3 838.1,444.0 839.2,420.3 840.3,420.5 841.3,439.5 842.4,433.5 843.5,422.8 844.6,431.7 845.6,435.0 846.7,436.2 847.8,446.6 848.9,444.3 850.0,457.1 851.0,455.2 852.1,450.1 853.2,453.4 854.3,455.4 855.4,449.5 856.4,429.1 857.5,447.3 858.6,438.6 859.7,451.1 860.8,435.8 861.8,439.1 862.9,436.1 864.0,446.4 865.1,431.9 866.2,426.1 867.2,431.0 868.3,422.9 869.4,427.9 870.5,425.4 871.6,428.3 872.6,442.4 873.7,421.8 874.8,427.4 875.9,425.8 876.9,435.5 878.0,418.3 879.1,423.2 880.2,430.3 881.3,436.4 882.3,430.5 883.4,426.5 884.5,423.6 885.6,437.6 886.7,446.4 887.7,437.8 888.8,437.0 889.9,441.0 891.0,427.8 892.1,434.3 893.1,435.4 894.2,441.9 895.3,438.9 896.4,428.9 897.5,452.0 898.5,457.6 899.6,441.1 900.7,447.2 901.8,445.0 902.8,449.3 903.9,427.2 905.0,454.3 906.1,434.2 907.2,449.4 908.2,437.2 909.3,432.7 910.4,435.8 911.5,446.3 912.6,429.1 913.6,433.6 914.7,433.0 915.8,422.7 916.9,449.9 918.0,443.4 919.0,437.3 920.1,448.7 921.2,428.7 922.3,438.7 923.4,455.5 924.4,451.7 925.5,425.4 926.6,421.6 927.7,435.8 928.7,457.3 929.8,442.6 930.9,444.6 932.0,451.4 933.1,435.1 934.1,445.1 935.2,450.0 936.3,445.8 937.4,445.4 938.5,435.0 939.5,446.4 940.6,437.9 941.7,454.8 942.8,462.0 943.9,433.6 944.9,422.3 946.0,435.6 947.1,442.8 948.2,448.6 949.3,448.7 950.3,431.3 951.4,432.2 952.5,452.9 953.6,431.5 954.6,451.9 955.7,438.8 956.8,447.3 957.9,445.2 959.0,445.1 960.0,445.6 961.1,427.7 962.2,439.5 963.3,437.8 964.4,441.4 965.4,450.5 966.5,438.1 967.6,434.5 968.7,434.2 969.8,438.6 970.8,449.0 971.9,434.1 973.0,452.2 974.1,443.8 975.2,438.9 976.2,428.5 977.3,443.9 978.4,448.6 979.5,427.9 980.5,455.8 981.6,461.3 982.7,452.5 983.8,455.4 984.9,470.4 985.9,463.3 987.0,442.9 988.1,451.2 989.2,448.8 990.3,447.6 991.3,429.1 992.4,453.8 993.5,438.8 994.6,445.8 995.7,442.7 996.7,451.7 997.8,439.9 998.9,435.0 1000.0,447.6 1001.1,455.3 1002.1,439.8 1003.2,457.0 1004.3,448.2 1005.4,442.0 1006.5,463.1 1007.5,443.5 1008.6,462.0 1009.7,448.8 1010.8,458.5 1011.8,441.8 1012.9,444.1 1014.0,461.0 1015.1,451.3 1016.2,448.5 1017.2,443.5 1018.3,452.4 1019.4,435.7 1020.5,439.0 1021.6,448.5 1022.6,442.1 1023.7,444.1 1024.8,450.6 1025.9,450.3 1027.0,449.6 1028.0,466.4 1029.1,460.9 1030.2,462.4 1031.3,450.7 1032.4,446.2 1033.4,437.9 1034.5,447.9 1035.6,434.4 1036.7,445.0 1037.7,456.5 1038.8,462.4 1039.9,455.4 1041.0,436.7 1042.1,448.5 1043.1,434.7 1044.2,449.6 1045.3,440.7 1046.4,450.5 1047.5,462.2 1048.5,450.6 1049.6,460.0 1050.7,442.6 1051.8,438.3 1052.9,453.4 1053.9,457.2 1055.0,438.7 1056.1,446.8 1057.2,435.7 1058.3,448.1 1059.3,459.9 1060.4,450.7 1061.5,446.0 1062.6,438.4 1063.6,455.4 1064.7,460.0 1065.8,458.2 1066.9,455.3 1068.0,441.3 1069.0,468.8 1070.1,452.9 1071.2,452.3 1072.3,460.6 1073.4,436.1 1074.4,452.6 1075.5,452.8 1076.6,458.5 1077.7,467.0 1078.8,459.3 1079.8,438.5 1080.9,451.7 1082.0,457.1 1083.1,457.0 1084.2,443.3 1085.2,439.3 1086.3,459.2 1087.4,455.4 1088.5,450.3 1089.5,434.0 1090.6,462.5 1091.7,424.7 1092.8,441.7 1093.9,462.8 1094.9,445.0 1096.0,450.2 1097.1,437.6 1098.2,462.1 1099.3,438.0 1100.3,452.7 1101.4,450.4 1102.5,437.7 1103.6,455.4 1104.7,432.4 1105.7,437.9 1106.8,443.1 1107.9,439.0 1109.0,447.3 1110.1,451.6 1111.1,441.0 1112.2,438.8 1113.3,439.7 1114.4,441.0 1115.4,453.4 1116.5,443.6 1117.6,450.3 1118.7,446.5 1119.8,440.0 1120.8,458.0 1121.9,440.6 1123.0,451.5 1124.1,466.0 1125.2,442.5 1126.2,452.0 1127.3,438.3 1128.4,446.8 1129.5,436.8 1130.6,445.6 1131.6,442.8 1132.7,449.0 1133.8,461.3 1134.9,450.1 1136.0,453.4 1137.0,447.3 1138.1,447.5 1139.2,443.8 1140.3,438.8 1141.4,457.6 1142.4,472.9 1143.5,465.2 1144.6,456.4 1145.7,476.4 1146.7,457.5 1147.8,455.3 1148.9,448.5 1150.0,449.3 1151.1,455.9 1152.1,474.6 1153.2,455.3 1154.3,447.1 1155.4,450.7 1156.5,454.2 1157.5,440.7 1158.6,457.0 1159.7,463.2 1160.8,460.5 1161.9,464.3 1162.9,447.8 1164.0,445.7 1165.1,473.0 1166.2,471.2 1167.3,446.7 1168.3,462.6 1169.4,461.0 1170.5,465.1 1171.6,460.8 1172.6,452.5 1173.7,458.7 1174.8,457.8 1175.9,456.2 1177.0,457.7 1178.0,468.9 1179.1,482.2 1180.2,491.9 1181.3,506.4 1182.4,517.5 1183.4,523.5 1184.5,525.9 1185.6,533.5 1186.7,544.5 1187.8,537.4 1188.8,552.4 1189.9,555.0 1191.0,555.8 1192.1,567.0 1193.2,555.3 1194.2,570.4 1195.3,558.0 1196.4,561.0 1197.5,560.5 1198.5,573.9 1199.6,565.3 1200.7,574.8 1201.8,568.4 1202.9,587.1 1203.9,595.0 1205.0,588.3 1206.1,602.7 1207.2,599.0 1208.3,614.1 1209.3,600.7 1210.4,587.5 1211.5,615.7 1212.6,602.1 1213.7,594.2 1214.7,597.5 1215.8,590.6 1216.9,603.9 1218.0,597.5 1219.1,622.1 1220.1,618.5 1221.2,602.2 1222.3,606.0 1223.4,617.1 1224.4,609.5 1225.5,626.2 1226.6,628.0 1227.7,622.4 1228.8,625.8 1229.8,636.0 1230.9,643.9 1232.0,645.4 1233.1,633.6 1234.2,642.2 1235.2,628.2 1236.3,640.4 1237.4,629.4 1238.5,645.9 1239.6,628.2 1240.6,630.2 1241.7,638.7 1242.8,644.0 1243.9,626.4 1245.0,634.5 1246.0,641.1 1247.1,642.9 1248.2,633.8 1249.3,644.3 1250.3,641.6 1251.4,657.9 1252.5,651.3 1253.6,635.6 1254.7,631.1 1255.7,650.9 1256.8,661.1 1257.9,653.2 1259.0,661.3 1260.1,650.3 1261.1,643.9 1262.2,663.3 1263.3,658.5 1264.4,664.7 1265.5,645.6 1266.5,659.2 1267.6,651.2 1268.7,664.7 1269.8,651.7 1270.9,651.5 1271.9,652.5 1273.0,671.5 1274.1,663.5 1275.2,658.9 1276.3,660.7 1277.3,663.2 1278.4,688.6 1279.5,662.4 1280.6,670.4 1281.6,684.9 1282.7,688.1 1283.8,674.7 1284.9,681.4 1286.0,680.0 1287.0,681.3 1288.1,671.8 1289.2,685.6 1290.3,674.4 1291.4,686.7 1292.4,662.9 1293.5,682.2 1294.6,662.1 1295.7,661.4 1296.8,679.7 1297.8,667.9 1298.9,682.0 1300.0,669.2 1301.1,694.8 1302.2,681.8 1303.2,672.6 1304.3,686.9 1305.4,695.2 1306.5,681.2 1307.5,695.4 1308.6,709.3 1309.7,701.7 1310.8,694.9 1311.9,690.1 1312.9,701.8 1314.0,683.2 1315.1,675.0 1316.2,691.7 1317.3,687.4 1318.3,713.2 1319.4,699.1 1320.5,687.9 1321.6,685.8 1322.7,701.2 1323.7,687.7 1324.8,689.7 1325.9,695.0 1327.0,698.0 1328.1,699.1 1329.1,700.1 1330.2,712.2 1331.3,716.4 1332.4,688.4 1333.4,723.7 1334.5,707.1 1335.6,719.1 1336.7,701.0 1337.8,711.5 1338.8,709.9 1339.9,708.8 1341.0,714.4 1342.1,710.9 1343.2,694.7 1344.2,702.9 1345.3,711.9 1346.4,712.3 1347.5,704.3 1348.6,707.7 1349.6,710.2 1350.7,703.6 1351.8,703.3 1352.9,730.1 1354.0,713.1 1355.0,718.5 1356.1,710.4 1357.2,729.3 1358.3,732.9 1359.3,715.2 1360.4,721.8 1361.5,709.5 1362.6,732.3 1363.7,726.4 1364.7,710.0 1365.8,730.5 1366.9,723.6 1368.0,725.4 1369.1,725.3 1370.1,716.0 1371.2,716.7 1372.3,726.9 1373.4,719.2 1374.5,708.6 1375.5,733.8 1376.6,713.5 1377.7,709.1 1378.8,707.0 1379.9,721.1 1380.9,725.3 1382.0,719.6 1383.1,726.9 1384.2,706.9 1385.2,719.0 1386.3,720.5 1387.4,726.2 1388.5,732.0 1389.6,711.5 1390.6,751.3 1391.7,721.7 1392.8,734.7 1393.9,739.5 1395.0,739.7 1396.0,733.6 1397.1,709.5 1398.2,721.1 1399.3,738.8 1400.4,722.5 1401.4,720.7 1402.5,711.7 1403.6,741.4 1404.7,735.1 1405.8,721.4 1406.8,727.6 1407.9,728.3 1409.0,717.5 1410.1,724.4 1411.2,729.3 1412.2,732.2 1413.3,739.2 1414.4,729.1 1415.5,725.9 1416.5,737.2 1417.6,729.1 1418.7,725.6 1419.8,749.3 1420.9,736.7 1421.9,742.3 1423.0,747.0 1424.1,729.9 1425.2,746.1 1426.3,743.6 1427.3,737.7 1428.4,742.2 1429.5,730.9 1430.6,720.1 1431.7,735.7 1432.7,729.9 1433.8,747.6 1434.9,741.9 1436.0,733.8 1437.1,740.5 1438.1,754.0 1439.2,754.4 1440.3,749.0 1441.4,750.5 1442.4,745.0 1443.5,746.8 1444.6,753.9 1445.7,746.4 1446.8,749.8 1447.8,734.8 1448.9,729.6 1450.0,728.7 1451.1,739.2 1452.2,755.4 1453.2,753.4 1454.3,732.7 1455.4,728.6 1456.5,750.1 1457.6,746.4 1458.6,728.4 1459.7,749.8 1460.8,741.1 1461.9,750.8 1463.0,741.0 1464.0,745.2 1465.1,739.3 1466.2,726.3 1467.3,732.8 1468.3,729.6 1469.4,746.0 1470.5,730.3 1471.6,727.5 1472.7,749.0 1473.7,754.8 1474.8,758.9 1475.9,757.3 1477.0,735.7 1478.1,743.7 1479.1,747.0 1480.2,753.6 1481.3,737.1 1482.4,755.5 1483.5,758.0 1484.5,745.6 1485.6,755.2 1486.7,764.8 1487.8,753.2 1488.9,761.7 1489.9,762.1 1491.0,757.6 1492.1,758.0 1493.2,751.5 1494.2,767.6 1495.3,752.1 1496.4,749.9 1497.5,763.6 1498.6,748.3 1499.6,758.7 1500.7,763.6 1501.8,753.7 1502.9,753.1 1504.0,760.3 1505.0,758.7 1506.1,737.1 1507.2,738.6 1508.3,762.6 1509.4,754.1 1510.4,732.8 1511.5,738.4 1512.6,750.8 1513.7,741.0 1514.8,755.4 1515.8,751.7 1516.9,756.3 1518.0,741.6 1519.1,759.6 1520.1,770.6 1521.2,746.8 1522.3,767.3 1523.4,764.9 1524.5,761.9 1525.5,755.8 1526.6,745.5 1527.7,747.4 1528.8,762.4 1529.9,763.5 1530.9,764.5 1532.0,761.2 1533.1,760.3 1534.2,747.4 1535.3,739.2 1536.3,751.8 1537.4,754.4 1538.5,749.4 1539.6,734.5 1540.7,742.8 1541.7,734.5 1542.8,749.3 1543.9,737.4 1545.0,746.2 1546.1,751.7 1547.1,752.0 1548.2,765.2 1549.3,743.7 1550.4,738.0 1551.4,766.7 1552.5,771.7 1553.6,773.1 1554.7,763.3 1555.8,766.0 1556.8,761.4 1557.9,747.8 1559.0,752.9 1560.1,762.7 1561.2,751.6 1562.2,773.2 1563.3,743.5 1564.4,753.5 1565.5,769.8 1566.6,754.5 1567.6,750.4 1568.7,750.7 1569.8,758.4 1570.9,780.2 1572.0,771.7 1573.0,773.7 1574.1,764.0 1575.2,777.1 1576.3,769.8 1577.3,760.1 1578.4,763.7 1579.5,770.5 1580.6,778.5 1581.7,766.1 1582.7,771.6 1583.8,782.9 1584.9,758.2 1586.0,754.6 1587.1,775.8 1588.1,772.0 1589.2,767.8 1590.3,772.3 1591.4,767.0 1592.5,776.3 1593.5,768.8 1594.6,780.3 1595.7,762.2 1596.8,765.5 1597.9,775.0 1598.9,768.7 1600.0,779.7 1601.1,772.7 1602.2,767.5 1603.2,775.0 1604.3,769.0 1605.4,761.3 1606.5,765.7 1607.6,770.0 1608.6,774.1 1609.7,780.7 1610.8,789.3 1611.9,787.0 1613.0,797.4"/>
<polyline class="cv" stroke="#008080" points="319.0,856.2 320.1,862.2 321.2,878.3 322.2,870.9 323.3,851.0 324.4,867.3 325.5,862.7 326.6,871.4 327.6,855.9 328.7,872.5 329.8,872.4 330.9,883.2 332.0,870.8 333.0,871.4 334.1,852.9 335.2,884.3 336.3,849.0 337.3,876.0 338.4,862.3 339.5,856.8 340.6,857.4 341.7,856.2 342.7,865.8 343.8,860.7 344.9,874.5 346.0,845.0 347.1,861.0 348.1,853.6 349.2,870.8 350.3,846.8 351.4,861.7 352.5,868.7 353.5,853.5 354.6,877.0 355.7,870.4 356.8,879.1 357.9,879.3 358.9,861.8 360.0,864.3 361.1,870.1 362.2,879.4 363.2,879.6 364.3,863.2 365.4,863.3 366.5,861.2 367.6,862.1 368.6,865.4 369.7,866.7 370.8,885.4 371.9,864.0 373.0,866.2 374.0,873.8 375.1,859.1 376.2,863.1 377.3,865.5 378.4,871.0 379.4,850.8 380.5,876.2 381.6,859.8 382.7,865.7 383.8,872.3 384.8,871.0 385.9,874.7 387.0,866.6 388.1,865.4 389.1,868.7 390.2,856.1 391.3,877.3 392.4,858.1 393.5,854.9 394.5,884.3 395.6,866.5 396.7,856.7 397.8,884.6 398.9,865.6 399.9,879.2 401.0,862.0 402.1,868.2 403.2,857.0 404.3,856.0 405.3,863.6 406.4,872.4 407.5,880.1 408.6,891.1 409.7,860.8 410.7,878.7 411.8,862.6 412.9,865.7 414.0,852.4 415.0,852.2 416.1,857.2 417.2,853.4 418.3,863.5 419.4,856.4 420.4,873.4 421.5,862.2 422.6,861.5 423.7,870.0 424.8,864.5 425.8,859.8 426.9,858.8 428.0,859.3 429.1,871.6 430.2,869.8 431.2,866.9 432.3,871.0 433.4,858.6 434.5,869.1 435.6,850.8 436.6,875.3 437.7,863.8 438.8,864.5 439.9,868.3 440.9,862.5 442.0,861.0 443.1,875.5 444.2,866.0 445.3,856.6 446.3,870.2 447.4,850.9 448.5,881.0 449.6,864.8 450.7,867.1 451.7,885.1 452.8,883.6 453.9,867.5 455.0,871.9 456.1,875.5 457.1,879.8 458.2,863.1 459.3,865.1 460.4,875.3 461.5,866.4 462.5,870.8 463.6,869.7 464.7,852.6 465.8,856.2 466.9,844.3 467.9,862.4 469.0,877.9 470.1,855.1 471.2,876.5 472.2,873.9 473.3,863.1 474.4,863.3 475.5,863.4 476.6,853.8 477.6,859.1 478.7,861.6 479.8,868.3 480.9,870.8 482.0,857.2 483.0,873.2 484.1,857.4 485.2,864.0 486.3,870.7 487.4,867.5 488.4,867.1 489.5,871.5 490.6,863.2 491.7,861.7 492.8,864.8 493.8,874.2 494.9,862.8 496.0,878.3 497.1,862.8 498.1,838.3 499.2,854.4 500.3,873.6 501.4,859.4 502.5,854.7 503.5,850.7 504.6,871.6 505.7,869.2 506.8,866.4 507.9,864.7 508.9,873.9 510.0,869.4 511.1,851.1 512.2,871.1 513.3,866.5 514.3,863.7 515.4,871.2 516.5,863.7 517.6,842.5 518.7,878.3 519.7,874.3 520.8,863.2 521.9,862.6 523.0,869.5 524.0,857.0 525.1,872.8 526.2,868.0 527.3,867.5 528.4,862.0 529.4,864.0 530.5,880.3 531.6,881.6 532.7,873.3 533.8,867.3 534.8,857.5 535.9,873.0 537.0,880.6 538.1,851.9 539.2,877.8 540.2,849.2 541.3,863.5 542.4,871.1 543.5,855.0 544.6,854.2 545.6,869.5 546.7,875.5 547.8,862.2 548.9,879.2 549.9,858.7 551.0,880.9 552.1,866.2 553.2,867.3 554.3,870.8 555.3,867.0 556.4,880.5 557.5,882.0 558.6,869.9 559.7,863.6 560.7,854.9 561.8,858.2 562.9,865.7 564.0,864.3 565.1,864.1 566.1,864.6 567.2,869.2 568.3,852.5 569.4,856.2 570.5,878.0 571.5,877.0 572.6,864.5 573.7,882.3 574.8,863.4 575.8,866.5 576.9,850.9 578.0,872.7 579.1,862.0 580.2,870.4 581.2,865.5 582.3,859.0 583.4,860.0 584.5,870.4 585.6,858.1 586.6,859.1 587.7,862.7 588.8,871.1 589.9,871.8 591.0,879.9 592.0,862.4 593.1,875.2 594.2,857.0 595.3,869.5 596.4,864.7 597.4,878.2 598.5,868.9 599.6,857.5 600.7,866.3 601.8,863.9 602.8,856.3 603.9,856.2 605.0,849.6 606.1,879.1 607.1,859.4 608.2,867.7 609.3,846.9 610.4,847.5 611.5,856.6 612.5,857.4 613.6,868.0 614.7,852.9 615.8,869.6 616.9,879.5 617.9,858.5 619.0,877.4 620.1,860.5 621.2,874.2 622.3,874.9 623.3,887.2 624.4,865.6 625.5,873.2 626.6,880.3 627.7,858.4 628.7,868.5 629.8,859.2 630.9,860.3 632.0,873.7 633.0,874.3 634.1,888.2 635.2,881.5 636.3,881.3 637.4,867.4 638.4,866.1 639.5,869.4 640.6,849.2 641.7,881.1 642.8,859.4 643.8,855.8 644.9,860.8 646.0,873.4 647.1,876.6 648.2,861.3 649.2,869.1 650.3,864.4 651.4,855.6 652.5,866.3 653.6,864.6 654.6,849.5 655.7,873.6 656.8,849.0 657.9,865.7 658.9,855.4 660.0,858.7 661.1,861.3 662.2,876.8 663.3,860.2 664.3,871.5 665.4,887.5 666.5,866.5 667.6,871.8 668.7,877.4 669.7,863.7 670.8,872.0 671.9,858.6 673.0,870.5 674.1,861.9 675.1,851.0 676.2,871.5 677.3,856.8 678.4,853.9 679.5,847.7 680.5,852.2 681.6,856.4 682.7,860.8 683.8,870.0 684.8,848.2 685.9,858.3 687.0,873.8 688.1,865.9 689.2,868.4 690.2,879.4 691.3,869.1 692.4,870.2 693.5,866.2 694.6,882.5 695.6,877.6 696.7,861.2 697.8,873.4 698.9,857.8 700.0,879.7 701.0,876.5 702.1,869.0 703.2,866.6 704.3,855.2 705.4,878.5 706.4,869.5 707.5,868.1 708.6,877.8 709.7,863.3 710.7,863.5 711.8,862.2 712.9,855.5 714.0,885.7 715.1,863.9 716.1,861.1 717.2,873.1 718.3,842.8 719.4,864.8 720.5,865.7 721.5,856.5 722.6,871.5 723.7,850.1 724.8,868.0 725.9,877.3 726.9,852.3 728.0,858.7 729.1,871.2 730.2,873.1 731.3,867.8 732.3,877.3 733.4,875.5 734.5,860.7 735.6,870.3 736.7,858.1 737.7,851.8 738.8,848.9 739.9,877.5 741.0,865.9 742.0,885.0 743.1,855.5 744.2,864.6 745.3,871.1 746.4,865.7 747.4,872.0 748.5,867.5 749.6,859.9 750.7,847.7 751.8,855.6 752.8,878.5 753.9,870.0 755.0,873.4 756.1,855.6 757.2,858.9 758.2,852.7 759.3,863.5 760.4,859.1 761.5,860.9 762.6,868.5 763.6,845.1 764.7,852.8 765.8,840.5 766.9,822.0 767.9,800.0 769.0,784.8 770.1,771.1 771.2,759.0 772.3,743.0 773.3,728.2 774.4,713.5 775.5,702.5 776.6,689.3 777.7,678.7 778.7,669.3 779.8,662.2 780.9,650.6 782.0,650.3 783.1,650.1 784.1,629.5 785.2,639.3 786.3,636.9 787.4,619.1 788.5,620.3 789.5,605.8 790.6,609.8 791.7,602.0 792.8,602.7 793.8,591.8 794.9,588.7 796.0,588.6 797.1,584.8 798.2,585.0 799.2,588.5 800.3,580.1 801.4,587.5 802.5,592.3 803.6,569.4 804.6,587.4 805.7,577.9 806.8,574.0 807.9,572.1 809.0,575.7 810.0,576.5 811.1,585.3 812.2,569.8 813.3,588.7 814.4,570.0 815.4,581.9 816.5,584.3 817.6,563.5 818.7,583.3 819.7,591.5 820.8,570.6 821.9,581.7 823.0,575.8 824.1,577.6 825.1,574.4 826.2,570.8 827.3,580.9 828.4,580.9 829.5,571.3 830.5,583.4 831.6,579.1 832.7,575.8 833.8,563.4 834.9,586.8 835.9,585.0 837.0,558.6 838.1,566.5 839.2,572.7 840.3,584.8 841.3,586.6 842.4,572.9 843.5,576.2 844.6,578.9 845.6,561.1 846.7,575.2 847.8,566.1 848.9,569.3 850.0,565.9 851.0,554.6 852.1,555.0 853.2,563.8 854.3,563.2 855.4,559.1 856.4,570.7 857.5,558.2 858.6,551.0 859.7,557.9 860.8,558.8 861.8,558.8 862.9,569.6 864.0,563.4 865.1,567.5 866.2,563.8 867.2,556.5 868.3,567.6 869.4,556.5 870.5,561.8 871.6,551.5 872.6,562.0 873.7,558.3 874.8,564.8 875.9,576.0 876.9,578.9 878.0,569.7 879.1,559.9 880.2,568.2 881.3,563.3 882.3,556.3 883.4,561.6 884.5,560.3 885.6,557.3 886.7,574.9 887.7,557.4 888.8,556.8 889.9,566.9 891.0,553.9 892.1,549.5 893.1,552.9 894.2,566.5 895.3,566.8 896.4,567.8 897.5,562.5 898.5,559.9 899.6,577.1 900.7,557.4 901.8,567.9 902.8,558.0 903.9,566.3 905.0,567.8 906.1,579.8 907.2,549.8 908.2,582.7 909.3,563.1 910.4,574.9 911.5,581.4 912.6,569.2 913.6,577.1 914.7,583.4 915.8,577.9 916.9,573.0 918.0,581.4 919.0,580.1 920.1,565.5 921.2,589.8 922.3,579.7 923.4,558.8 924.4,568.6 925.5,590.5 926.6,589.2 927.7,577.3 928.7,559.7 929.8,570.7 930.9,582.3 932.0,576.3 933.1,569.0 934.1,564.2 935.2,578.2 936.3,568.2 937.4,572.2 938.5,573.2 939.5,582.0 940.6,569.0 941.7,569.1 942.8,551.8 943.9,576.5 944.9,574.2 946.0,565.2 947.1,546.8 948.2,558.9 949.3,563.6 950.3,578.7 951.4,566.4 952.5,567.8 953.6,568.3 954.6,572.4 955.7,550.6 956.8,554.1 957.9,551.3 959.0,559.3 960.0,558.0 961.1,562.8 962.2,552.9 963.3,563.3 964.4,554.7 965.4,580.1 966.5,560.0 967.6,585.4 968.7,581.8 969.8,560.6 970.8,579.3 971.9,577.3 973.0,559.7 974.1,577.0 975.2,571.3 976.2,575.2 977.3,565.2 978.4,573.0 979.5,577.9 980.5,572.7 981.6,569.4 982.7,575.2 983.8,568.1 984.9,581.8 985.9,560.2 987.0,591.6 988.1,578.8 989.2,582.3 990.3,584.9 991.3,566.0 992.4,594.7 993.5,567.8 994.6,582.5 995.7,582.4 996.7,591.9 997.8,581.1 998.9,568.8 1000.0,583.7 1001.1,561.3 1002.1,577.2 1003.2,572.9 1004.3,589.3 1005.4,571.6 1006.5,568.7 1007.5,564.9 1008.6,562.5 1009.7,564.0 1010.8,572.7 1011.8,554.2 1012.9,562.7 1014.0,552.0 1015.1,563.4 1016.2,566.5 1017.2,555.7 1018.3,562.3 1019.4,570.5 1020.5,578.7 1021.6,582.3 1022.6,574.7 1023.7,568.6 1024.8,565.9 1025.9,588.5 1027.0,594.8 1028.0,587.6 1029.1,598.0 1030.2,580.8 1031.3,581.3 1032.4,598.5 1033.4,575.5 1034.5,589.2 1035.6,586.6 1036.7,583.8 1037.7,596.0 1038.8,572.8 1039.9,576.2 1041.0,563.2 1042.1,570.2 1043.1,575.6 1044.2,577.2 1045.3,579.0 1046.4,583.7 1047.5,573.5 1048.5,562.2 1049.6,578.4 1050.7,579.7 1051.8,564.2 1052.9,567.6 1053.9,590.3 1055.0,585.9 1056.1,587.5 1057.2,584.9 1058.3,580.3 1059.3,575.1 1060.4,585.6 1061.5,578.9 1062.6,577.1 1063.6,581.6 1064.7,581.1 1065.8,589.7 1066.9,572.8 1068.0,600.4 1069.0,572.3 1070.1,576.8 1071.2,590.1 1072.3,573.8 1073.4,576.7 1074.4,581.3 1075.5,560.6 1076.6,576.0 1077.7,571.2 1078.8,576.7 1079.8,582.7 1080.9,584.1 1082.0,591.8 1083.1,592.8 1084.2,591.5 1085.2,584.8 1086.3,596.8 1087.4,580.3 1088.5,590.0 1089.5,603.3 1090.6,597.1 1091.7,576.3 1092.8,580.9 1093.9,592.5 1094.9,588.0 1096.0,590.5 1097.1,565.0 1098.2,568.4 1099.3,576.9 1100.3,570.3 1101.4,579.1 1102.5,578.8 1103.6,582.4 1104.7,577.8 1105.7,584.7 1106.8,587.6 1107.9,583.7 1109.0,572.3 1110.1,595.4 1111.1,587.4 1112.2,591.1 1113.3,589.7 1114.4,574.3 1115.4,593.4 1116.5,582.0 1117.6,577.2 1118.7,599.2 1119.8,584.5 1120.8,589.8 1121.9,594.3 1123.0,599.2 1124.1,570.0 1125.2,577.3 1126.2,589.3 1127.3,576.3 1128.4,561.2 1129.5,583.8 1130.6,584.2 1131.6,588.9 1132.7,583.2 1133.8,576.4 1134.9,581.2 1136.0,578.2 1137.0,573.0 1138.1,579.3 1139.2,580.1 1140.3,568.0 1141.4,587.0 1142.4,585.6 1143.5,585.8 1144.6,558.9 1145.7,580.2 1146.7,578.2 1147.8,570.7 1148.9,586.3 1150.0,569.1 1151.1,594.5 1152.1,588.5 1153.2,580.8 1154.3,597.9 1155.4,589.4 1156.5,588.0 1157.5,573.0 1158.6,589.7 1159.7,597.9 1160.8,596.0 1161.9,575.3 1162.9,600.0 1164.0,602.1 1165.1,596.7 1166.2,585.1 1167.3,574.9 1168.3,579.4 1169.4,581.9 1170.5,588.5 1171.6,589.7 1172.6,578.0 1173.7,570.4 1174.8,578.8 1175.9,571.1 1177.0,593.3 1178.0,579.8 1179.1,593.1 1180.2,599.1 1181.3,591.9 1182.4,607.7 1183.4,601.7 1184.5,599.1 1185.6,600.5 1186.7,610.8 1187.8,620.9 1188.8,602.1 1189.9,622.5 1191.0,617.8 1192.1,615.0 1193.2,621.9 1194.2,624.8 1195.3,625.4 1196.4,633.5 1197.5,620.3 1198.5,642.7 1199.6,637.2 1200.7,627.1 1201.8,621.1 1202.9,636.8 1203.9,637.8 1205.0,651.1 1206.1,655.1 1207.2,667.3 1208.3,656.4 1209.3,666.8 1210.4,660.9 1211.5,663.5 1212.6,680.3 1213.7,669.2 1214.7,670.2 1215.8,669.6 1216.9,677.0 1218.0,679.6 1219.1,672.2 1220.1,663.0 1221.2,676.0 1222.3,664.1 1223.4,667.6 1224.4,672.1 1225.5,670.6 1226.6,649.4 1227.7,680.3 1228.8,672.6 1229.8,681.6 1230.9,684.7 1232.0,657.3 1233.1,660.8 1234.2,668.6 1235.2,674.8 1236.3,661.2 1237.4,663.7 1238.5,677.3 1239.6,664.6 1240.6,675.2 1241.7,684.3 1242.8,673.0 1243.9,683.5 1245.0,676.5 1246.0,666.0 1247.1,676.7 1248.2,682.2 1249.3,683.0 1250.3,688.3 1251.4,694.3 1252.5,696.2 1253.6,698.1 1254.7,695.9 1255.7,699.7 1256.8,698.3 1257.9,695.6 1259.0,712.6 1260.1,684.2 1261.1,701.5 1262.2,685.6 1263.3,693.7 1264.4,707.7 1265.5,698.6 1266.5,714.4 1267.6,696.9 1268.7,703.8 1269.8,702.3 1270.9,708.4 1271.9,704.8 1273.0,703.1 1274.1,706.6 1275.2,715.4 1276.3,706.8 1277.3,705.5 1278.4,703.7 1279.5,700.4 1280.6,695.8 1281.6,700.2 1282.7,710.4 1283.8,695.8 1284.9,717.0 1286.0,707.4 1287.0,703.1 1288.1,707.2 1289.2,719.6 1290.3,717.6 1291.4,717.8 1292.4,732.2 1293.5,736.7 1294.6,707.2 1295.7,725.9 1296.8,712.3 1297.8,708.5 1298.9,715.2 1300.0,729.6 1301.1,716.7 1302.2,715.2 1303.2,731.9 1304.3,724.3 1305.4,718.5 1306.5,734.7 1307.5,724.3 1308.6,713.8 1309.7,711.1 1310.8,718.3 1311.9,723.6 1312.9,730.2 1314.0,728.3 1315.1,720.6 1316.2,707.5 1317.3,725.3 1318.3,716.0 1319.4,704.2 1320.5,702.1 1321.6,715.1 1322.7,716.0 1323.7,721.6 1324.8,706.6 1325.9,733.4 1327.0,707.8 1328.1,723.9 1329.1,738.0 1330.2,737.8 1331.3,722.0 1332.4,738.2 1333.4,744.7 1334.5,742.4 1335.6,727.7 1336.7,751.0 1337.8,722.6 1338.8,735.8 1339.9,724.6 1341.0,729.5 1342.1,729.0 1343.2,736.3 1344.2,719.3 1345.3,731.2 1346.4,740.5 1347.5,730.5 1348.6,735.1 1349.6,734.7 1350.7,725.4 1351.8,730.7 1352.9,736.3 1354.0,743.1 1355.0,757.1 1356.1,756.6 1357.2,739.2 1358.3,740.4 1359.3,735.3 1360.4,726.4 1361.5,754.5 1362.6,746.7 1363.7,725.7 1364.7,741.0 1365.8,758.3 1366.9,744.2 1368.0,743.8 1369.1,741.2 1370.1,732.9 1371.2,729.6 1372.3,733.7 1373.4,743.4 1374.5,739.7 1375.5,748.3 1376.6,755.9 1377.7,745.5 1378.8,748.3 1379.9,736.7 1380.9,728.4 1382.0,757.2 1383.1,748.1 1384.2,753.6 1385.2,741.0 1386.3,732.2 1387.4,759.4 1388.5,730.8 1389.6,746.1 1390.6,742.6 1391.7,749.0 1392.8,754.0 1393.9,753.6 1395.0,729.0 1396.0,755.2 1397.1,730.4 1398.2,752.2 1399.3,742.3 1400.4,736.5 1401.4,742.0 1402.5,735.3 1403.6,746.9 1404.7,756.8 1405.8,756.2 1406.8,750.3 1407.9,761.5 1409.0,757.6 1410.1,771.6 1411.2,759.8 1412.2,749.9 1413.3,753.4 1414.4,748.8 1415.5,753.4 1416.5,754.1 1417.6,761.0 1418.7,761.6 1419.8,754.8 1420.9,758.5 1421.9,748.9 1423.0,751.6 1424.1,739.6 1425.2,752.2 1426.3,756.2 1427.3,781.3 1428.4,751.2 1429.5,763.8 1430.6,760.3 1431.7,750.2 1432.7,766.1 1433.8,763.0 1434.9,749.4 1436.0,743.6 1437.1,759.5 1438.1,747.3 1439.2,765.7 1440.3,756.8 1441.4,764.7 1442.4,756.7 1443.5,773.2 1444.6,767.1 1445.7,774.1 1446.8,762.1 1447.8,751.7 1448.9,748.0 1450.0,756.3 1451.1,763.9 1452.2,754.7 1453.2,779.3 1454.3,760.8 1455.4,765.9 1456.5,763.4 1457.6,751.9 1458.6,773.9 1459.7,770.7 1460.8,773.6 1461.9,757.9 1463.0,767.1 1464.0,767.0 1465.1,777.8 1466.2,755.1 1467.3,774.0 1468.3,780.1 1469.4,765.0 1470.5,762.1 1471.6,781.6 1472.7,771.6 1473.7,778.4 1474.8,773.5 1475.9,774.3 1477.0,761.5 1478.1,745.4 1479.1,767.5 1480.2,755.3 1481.3,768.3 1482.4,758.8 1483.5,778.7 1484.5,764.3 1485.6,775.5 1486.7,777.8 1487.8,767.0 1488.9,771.7 1489.9,768.1 1491.0,759.7 1492.1,782.1 1493.2,761.1 1494.2,756.5 1495.3,765.4 1496.4,771.3 1497.5,770.3 1498.6,766.4 1499.6,764.9 1500.7,751.5 1501.8,774.7 1502.9,783.1 1504.0,761.8 1505.0,752.9 1506.1,775.1 1507.2,766.4 1508.3,743.6 1509.4,759.9 1510.4,753.2 1511.5,755.2 1512.6,782.7 1513.7,777.0 1514.8,767.5 1515.8,771.1 1516.9,786.3 1518.0,763.0 1519.1,781.3 1520.1,768.9 1521.2,782.4 1522.3,775.3 1523.4,764.8 1524.5,780.2 1525.5,773.6 1526.6,781.3 1527.7,760.2 1528.8,763.3 1529.9,754.9 1530.9,772.0 1532.0,753.6 1533.1,761.4 1534.2,774.5 1535.3,769.1 1536.3,767.8 1537.4,768.1 1538.5,769.4 1539.6,773.2 1540.7,764.7 1541.7,751.7 1542.8,781.0 1543.9,760.3 1545.0,785.8 1546.1,773.5 1547.1,791.5 1548.2,780.6 1549.3,773.0 1550.4,776.6 1551.4,755.8 1552.5,771.4 1553.6,767.7 1554.7,773.5 1555.8,759.1 1556.8,760.8 1557.9,787.3 1559.0,781.3 1560.1,777.3 1561.2,780.4 1562.2,776.1 1563.3,778.1 1564.4,790.4 1565.5,782.7 1566.6,792.8 1567.6,780.4 1568.7,771.3 1569.8,780.0 1570.9,783.6 1572.0,773.5 1573.0,777.7 1574.1,775.0 1575.2,788.3 1576.3,787.1 1577.3,788.8 1578.4,771.0 1579.5,781.7 1580.6,790.3 1581.7,780.7 1582.7,778.3 1583.8,772.4 1584.9,787.1 1586.0,779.9 1587.1,787.5 1588.1,776.7 1589.2,794.6 1590.3,777.2 1591.4,765.5 1592.5,778.9 1593.5,781.6 1594.6,789.5 1595.7,774.0 1596.8,774.8 1597.9,779.2 1598.9,779.6 1600.0,767.3 1601.1,792.3 1602.2,798.2 1603.2,781.4 1604.3,781.8 1605.4,792.4 1606.5,789.6 1607.6,807.4 1608.6,796.0 1609.7,810.9 1610.8,795.9 1611.9,796.4 1613.0,796.3"/>
<polyline class="cv" stroke="#ff00ff" points="319.0,845.4 320.1,840.4 321.2,853.4 322.2,863.3 323.3,872.3 324.4,862.3 325.5,855.5 326.6,853.9 327.6,871.4 328.7,878.8 329.8,863.8 330.9,847.4 332.0,850.3 333.0,878.2 334.1,864.8 335.2,845.9 336.3,863.1 337.3,851.4 338.4,856.3 339.5,856.7 340.6,851.9 341.7,862.7 342.7,851.7 343.8,841.7 344.9,851.4 346.0,855.5 347.1,830.5 348.1,847.0 349.2,841.6 350.3,854.0 351.4,844.5 352.5,859.6 353.5,860.6 354.6,857.8 355.7,850.0 356.8,856.5 357.9,849.4 358.9,847.1 360.0,864.9 361.1,850.9 362.2,877.1 363.2,873.2 364.3,845.6 365.4,867.9 366.5,852.2 367.6,863.9 368.6,862.6 369.7,842.0 370.8,857.7 371.9,855.7 373.0,867.8 374.0,843.0 375.1,862.6 376.2,841.0 377.3,849.1 378.4,843.4 379.4,868.8 380.5,861.2 381.6,877.8 382.7,863.6 383.8,866.7 384.8,867.8 385.9,852.5 387.0,857.9 388.1,873.3 389.1,855.0 390.2,862.7 391.3,859.8 392.4,867.4 393.5,856.0 394.5,857.0 395.6,859.6 396.7,855.7 397.8,841.4 398.9,858.6 399.9,833.5 401.0,835.0 402.1,837.1 403.2,864.3 404.3,851.8 405.3,846.1 406.4,843.7 407.5,859.5 408.6,841.9 409.7,839.0 410.7,859.0 411.8,839.3 412.9,849.4 414.0,854.9 415.0,852.0 416.1,858.9 417.2,875.7 418.3,857.8 419.4,850.3 420.4,845.9 421.5,861.5 422.6,857.9 423.7,863.1 424.8,853.8 425.8,852.4 426.9,848.8 428.0,850.5 429.1,857.1 430.2,850.8 431.2,856.5 432.3,874.0 433.4,862.1 434.5,841.8 435.6,876.7 436.6,863.8 437.7,849.5 438.8,869.7 439.9,858.9 440.9,851.3 442.0,850.4 443.1,845.9 444.2,857.3 445.3,868.7 446.3,854.3 447.4,863.7 448.5,878.1 449.6,847.5 450.7,864.2 451.7,857.2 452.8,850.1 453.9,850.7 455.0,861.2 456.1,866.4 457.1,854.9 458.2,861.2 459.3,868.6 460.4,862.3 461.5,867.3 462.5,862.4 463.6,860.7 464.7,872.1 465.8,860.6 466.9,853.6 467.9,859.4 469.0,840.0 470.1,845.8 471.2,858.2 472.2,856.8 473.3,866.5 474.4,851.5 475.5,837.1 476.6,872.9 477.6,866.9 478.7,845.3 479.8,873.0 480.9,859.5 482.0,841.8 483.0,855.4 484.1,854.4 485.2,875.6 486.3,849.3 487.4,855.6 488.4,856.0 489.5,855.8 490.6,852.8 491.7,867.3 492.8,877.5 493.8,873.9 494.9,856.9 496.0,853.6 497.1,866.5 498.1,854.8 499.2,852.4 500.3,840.5 501.4,875.2 502.5,864.3 503.5,842.2 504.6,862.3 505.7,866.2 506.8,830.1 507.9,846.2 508.9,849.5 510.0,863.5 511.1,856.1 512.2,855.3 513.3,856.2 514.3,874.6 515.4,875.4 516.5,847.0 517.6,839.5 518.7,872.3 519.7,837.7 520.8,841.4 521.9,849.0 523.0,855.0 524.0,861.6 525.1,855.3 526.2,841.3 527.3,857.2 528.4,853.9 529.4,868.2 530.5,848.1 531.6,834.1 532.7,837.9 533.8,865.2 534.8,845.4 535.9,834.3 537.0,850.2 538.1,858.5 539.2,872.8 540.2,848.9 541.3,868.1 542.4,868.8 543.5,850.4 544.6,855.3 545.6,873.6 546.7,873.1 547.8,863.7 548.9,856.0 549.9,863.9 551.0,850.3 552.1,850.2 553.2,841.5 554.3,851.9 555.3,851.8 556.4,878.0 557.5,851.7 558.6,868.0 559.7,869.4 560.7,853.8 561.8,869.7 562.9,837.9 564.0,862.0 565.1,872.5 566.1,842.8 567.2,854.2 568.3,878.8 569.4,863.6 570.5,853.0 571.5,859.4 572.6,856.2 573.7,869.6 574.8,865.4 575.8,856.8 576.9,853.1 578.0,860.4 579.1,876.5 580.2,866.6 581.2,870.5 582.3,862.0 583.4,848.8 584.5,853.5 585.6,867.9 586.6,859.9 587.7,846.9 588.8,838.5 589.9,854.8 591.0,849.6 592.0,849.8 593.1,849.4 594.2,856.2 595.3,856.2 596.4,864.6 597.4,864.1 598.5,868.2 599.6,863.2 600.7,850.0 601.8,852.6 602.8,858.8 603.9,849.2 605.0,858.7 606.1,863.7 607.1,842.2 608.2,833.1 609.3,863.8 610.4,851.8 611.5,859.6 612.5,837.9 613.6,870.5 614.7,862.0 615.8,853.6 616.9,851.7 617.9,857.9 619.0,855.6 620.1,855.3 621.2,846.6 622.3,872.5 623.3,859.2 624.4,860.6 625.5,859.4 626.6,836.8 627.7,863.5 628.7,853.5 629.8,853.2 630.9,857.7 632.0,846.0 633.0,865.5 634.1,848.0 635.2,845.5 636.3,845.5 637.4,857.7 638.4,865.5 639.5,852.9 640.6,846.2 641.7,875.7 642.8,854.2 643.8,879.6 644.9,866.6 646.0,859.9 647.1,860.2 648.2,871.0 649.2,873.6 650.3,860.3 651.4,871.6 652.5,879.7 653.6,856.5 654.6,846.6 655.7,848.7 656.8,845.7 657.9,852.8 658.9,851.9 660.0,844.6 661.1,863.7 662.2,833.2 663.3,840.7 664.3,874.2 665.4,866.4 666.5,861.4 667.6,861.5 668.7,875.0 669.7,864.2 670.8,859.1 671.9,844.6 673.0,857.1 674.1,849.2 675.1,849.3 676.2,849.4 677.3,856.9 678.4,854.9 679.5,869.1 680.5,845.8 681.6,859.6 682.7,881.5 683.8,864.5 684.8,877.6 685.9,877.7 687.0,879.4 688.1,873.1 689.2,849.0 690.2,859.3 691.3,856.4 692.4,843.4 693.5,853.5 694.6,845.2 695.6,841.1 696.7,860.7 697.8,857.1 698.9,850.3 700.0,848.7 701.0,852.9 702.1,855.1 703.2,855.2 704.3,859.9 705.4,855.9 706.4,864.8 707.5,866.4 708.6,863.6 709.7,851.2 710.7,851.1 711.8,862.4 712.9,854.8 714.0,856.8 715.1,835.4 716.1,834.8 717.2,862.6 718.3,862.7 719.4,873.1 720.5,866.6 721.5,860.7 722.6,858.2 723.7,843.4 724.8,868.8 725.9,853.5 726.9,866.5 728.0,863.0 729.1,864.7 730.2,871.7 731.3,856.5 732.3,856.6 733.4,850.9 734.5,855.3 735.6,876.4 736.7,855.6 737.7,871.5 738.8,866.7 739.9,864.3 741.0,863.2 742.0,842.6 743.1,857.3 744.2,869.5 745.3,847.1 746.4,859.7 747.4,864.3 748.5,881.7 749.6,885.9 750.7,915.9 751.8,905.9 752.8,893.4 753.9,913.3 755.0,895.6 756.1,882.6 757.2,875.8 758.2,865.2 759.3,862.3 760.4,866.5 761.5,865.8 762.6,863.5 763.6,854.7 764.7,845.9 765.8,844.7 766.9,851.1 767.9,850.5 769.0,834.6 770.1,831.1 771.2,840.5 772.3,834.1 773.3,830.7 774.4,813.6 775.5,815.5 776.6,810.0 777.7,811.4 778.7,794.5 779.8,811.4 780.9,800.7 782.0,797.8 783.1,783.0 784.1,788.5 785.2,795.1 786.3,771.7 787.4,781.5 788.5,781.2 789.5,768.1 790.6,775.5 791.7,763.6 792.8,770.5 793.8,762.2 794.9,756.6 796.0,762.6 797.1,753.3 798.2,753.8 799.2,734.7 800.3,735.7 801.4,745.4 802.5,743.7 803.6,732.9 804.6,736.9 805.7,718.3 806.8,724.7 807.9,709.6 809.0,718.3 810.0,707.8 811.1,703.7 812.2,707.1 813.3,718.1 814.4,692.2 815.4,693.1 816.5,704.8 817.6,689.3 818.7,705.9 819.7,692.3 820.8,689.4 821.9,691.1 823.0,700.9 824.1,691.0 825.1,688.5 826.2,685.2 827.3,668.2 828.4,673.3 829.5,696.1 830.5,692.2 831.6,689.8 832.7,690.9 833.8,678.4 834.9,686.2 835.9,673.0 837.0,685.1 838.1,673.4 839.2,678.0 840.3,685.1 841.3,677.8 842.4,688.6 843.5,687.3 844.6,686.0 845.6,695.5 846.7,668.8 847.8,667.3 848.9,687.3 850.0,689.0 851.0,695.3 852.1,684.4 853.2,683.3 854.3,665.4 855.4,680.6 856.4,679.0 857.5,660.9 858.6,662.5 859.7,671.2 860.8,676.3 861.8,651.0 862.9,675.5 864.0,677.5 865.1,673.8 866.2,679.6 867.2,682.7 868.3,668.4 869.4,682.5 870.5,675.7 871.6,668.0 872.6,679.0 873.7,690.1 874.8,660.7 875.9,657.5 876.9,656.0 878.0,687.5 879.1,665.0 880.2,666.3 881.3,658.4 882.3,656.1 883.4,647.7 884.5,667.9 885.6,669.6 886.7,650.6 887.7,657.8 888.8,660.3 889.9,667.5 891.0,670.3 892.1,678.2 893.1,678.8 894.2,674.6 895.3,676.3 896.4,651.3 897.5,657.0 898.5,674.4 899.6,666.0 900.7,662.9 901.8,646.3 902.8,647.8 903.9,671.9 905.0,668.1 906.1,662.1 907.2,661.3 908.2,650.0 909.3,670.7 910.4,678.0 911.5,684.0 912.6,668.8 913.6,664.5 914.7,654.0 915.8,675.5 916.9,677.8 918.0,654.4 919.0,662.4 920.1,659.9 921.2,654.1 922.3,641.1 923.4,659.1 924.4,671.4 925.5,652.3 926.6,658.7 927.7,644.3 928.7,680.9 929.8,672.2 930.9,666.5 932.0,661.9 933.1,657.7 934.1,664.1 935.2,661.8 936.3,663.1 937.4,665.6 938.5,667.1 939.5,680.0 940.6,651.0 941.7,667.7 942.8,658.1 943.9,653.4 944.9,644.4 946.0,672.2 947.1,656.8 948.2,658.9 949.3,671.1 950.3,653.8 951.4,663.5 952.5,660.4 953.6,667.4 954.6,667.9 955.7,648.5 956.8,666.7 957.9,656.4 959.0,659.9 960.0,656.9 961.1,667.0 962.2,647.7 963.3,662.2 964.4,670.2 965.4,654.6 966.5,673.8 967.6,646.4 968.7,654.7 969.8,646.2 970.8,644.4 971.9,638.6 973.0,642.8 974.1,646.7 975.2,637.6 976.2,653.0 977.3,656.7 978.4,627.2 979.5,649.4 980.5,644.0 981.6,646.6 982.7,666.6 983.8,661.8 984.9,655.5 985.9,656.7 987.0,638.4 988.1,665.8 989.2,650.2 990.3,659.9 991.3,658.9 992.4,665.6 993.5,672.8 994.6,664.2 995.7,664.8 996.7,648.4 997.8,654.6 998.9,657.6 1000.0,637.0 1001.1,670.3 1002.1,647.0 1003.2,644.3 1004.3,672.9 1005.4,677.9 1006.5,652.6 1007.5,653.0 1008.6,681.6 1009.7,658.8 1010.8,639.1 1011.8,648.8 1012.9,671.0 1014.0,658.5 1015.1,657.7 1016.2,660.5 1017.2,653.9 1018.3,644.1 1019.4,632.8 1020.5,653.1 1021.6,638.9 1022.6,650.1 1023.7,667.2 1024.8,657.1 1025.9,653.4 1027.0,653.8 1028.0,660.3 1029.1,662.1 1030.2,640.7 1031.3,654.9 1032.4,668.0 1033.4,659.9 1034.5,644.7 1035.6,645.4 1036.7,635.2 1037.7,646.9 1038.8,671.2 1039.9,657.4 1041.0,652.0 1042.1,657.0 1043.1,663.3 1044.2,665.3 1045.3,664.7 1046.4,662.3 1047.5,676.5 1048.5,685.1 1049.6,664.9 1050.7,664.8 1051.8,681.1 1052.9,655.1 1053.9,662.6 1055.0,664.7 1056.1,671.3 1057.2,667.2 1058.3,660.3 1059.3,672.0 1060.4,655.6 1061.5,649.8 1062.6,646.5 1063.6,670.3 1064.7,645.3 1065.8,665.8 1066.9,667.3 1068.0,668.3 1069.0,658.4 1070.1,654.3 1071.2,661.3 1072.3,655.6 1073.4,651.0 1074.4,677.0 1075.5,656.9 1076.6,684.0 1077.7,674.3 1078.8,664.5 1079.8,673.4 1080.9,681.1 1082.0,654.3 1083.1,657.6 1084.2,656.4 1085.2,668.5 1086.3,670.0 1087.4,665.3 1088.5,656.8 1089.5,657.9 1090.6,674.1 1091.7,673.0 1092.8,661.9 1093.9,647.8 1094.9,667.2 1096.0,663.6 1097.1,663.8 1098.2,677.7 1099.3,669.9 1100.3,651.7 1101.4,652.2 1102.5,676.3 1103.6,666.1 1104.7,673.7 1105.7,664.2 1106.8,655.9 1107.9,669.2 1109.0,681.4 1110.1,670.0 1111.1,654.6 1112.2,662.9 1113.3,660.9 1114.4,668.3 1115.4,676.8 1116.5,684.5 1117.6,669.6 1118.7,662.9 1119.8,668.7 1120.8,667.8 1121.9,663.7 1123.0,668.2 1124.1,668.7 1125.2,657.8 1126.2,676.1 1127.3,667.7 1128.4,662.0 1129.5,677.3 1130.6,668.2 1131.6,690.2 1132.7,680.6 1133.8,677.4 1134.9,669.2 1136.0,672.4 1137.0,684.1 1138.1,666.9 1139.2,679.8 1140.3,652.2 1141.4,671.4 1142.4,676.4 1143.5,671.6 1144.6,668.6 1145.7,679.4 1146.7,661.8 1147.8,661.5 1148.9,673.9 1150.0,684.4 1151.1,677.2 1152.1,670.1 1153.2,674.0 1154.3,675.4 1155.4,658.3 1156.5,647.9 1157.5,659.4 1158.6,655.3 1159.7,663.7 1160.8,657.2 1161.9,659.7 1162.9,672.2 1164.0,667.8 1165.1,665.3 1166.2,680.1 1167.3,660.2 1168.3,660.1 1169.4,673.3 1170.5,645.7 1171.6,633.6 1172.6,652.9 1173.7,638.5 1174.8,643.6 1175.9,651.3 1177.0,663.0 1178.0,656.1 1179.1,664.0 1180.2,655.4 1181.3,668.0 1182.4,668.7 1183.4,661.6 1184.5,673.2 1185.6,688.4 1186.7,656.9 1187.8,677.1 1188.8,678.9 1189.9,681.9 1191.0,665.9 1192.1,686.6 1193.2,683.3 1194.2,676.8 1195.3,675.2 1196.4,681.9 1197.5,688.4 1198.5,688.2 1199.6,697.9 1200.7,677.2 1201.8,687.3 1202.9,679.2 1203.9,692.0 1205.0,688.3 1206.1,682.9 1207.2,677.9 1208.3,683.5 1209.3,694.6 1210.4,706.8 1211.5,701.9 1212.6,683.1 1213.7,690.1 1214.7,696.1 1215.8,695.6 1216.9,698.1 1218.0,705.0 1219.1,699.7 1220.1,690.5 1221.2,680.2 1222.3,694.3 1223.4,681.7 1224.4,695.5 1225.5,699.8 1226.6,683.6 1227.7,695.5 1228.8,694.0 1229.8,715.0 1230.9,704.4 1232.0,685.1 1233.1,708.4 1234.2,711.0 1235.2,707.8 1236.3,707.9 1237.4,719.1 1238.5,720.4 1239.6,718.3 1240.6,704.5 1241.7,712.8 1242.8,702.0 1243.9,703.7 1245.0,713.3 1246.0,709.4 1247.1,716.0 1248.2,740.1 1249.3,723.5 1250.3,709.0 1251.4,699.6 1252.5,709.5 1253.6,705.9 1254.7,703.3 1255.7,731.0 1256.8,721.9 1257.9,733.8 1259.0,755.1 1260.1,737.0 1261.1,736.7 1262.2,740.0 1263.3,733.6 1264.4,728.0 1265.5,733.1 1266.5,745.6 1267.6,729.4 1268.7,716.5 1269.8,715.6 1270.9,715.1 1271.9,723.7 1273.0,728.7 1274.1,728.4 1275.2,735.7 1276.3,722.5 1277.3,733.2 1278.4,728.3 1279.5,732.8 1280.6,709.5 1281.6,737.6 1282.7,711.4 1283.8,715.3 1284.9,733.7 1286.0,721.2 1287.0,741.3 1288.1,726.9 1289.2,716.2 1290.3,728.6 1291.4,724.1 1292.4,744.8 1293.5,746.7 1294.6,740.6 1295.7,729.5 1296.8,735.5 1297.8,746.1 1298.9,728.6 1300.0,729.2 1301.1,747.2 1302.2,748.5 1303.2,739.4 1304.3,740.9 1305.4,727.4 1306.5,757.2 1307.5,744.9 1308.6,732.7 1309.7,736.0 1310.8,739.0 1311.9,763.6 1312.9,753.8 1314.0,733.0 1315.1,761.0 1316.2,755.3 1317.3,729.9 1318.3,718.3 1319.4,748.6 1320.5,732.4 1321.6,737.0 1322.7,733.4 1323.7,752.5 1324.8,754.8 1325.9,749.0 1327.0,738.5 1328.1,742.6 1329.1,746.6 1330.2,725.7 1331.3,752.4 1332.4,738.7 1333.4,746.1 1334.5,745.5 1335.6,754.2 1336.7,756.9 1337.8,765.8 1338.8,744.4 1339.9,740.2 1341.0,752.5 1342.1,746.6 1343.2,763.9 1344.2,748.4 1345.3,758.8 1346.4,767.7 1347.5,768.0 1348.6,759.6 1349.6,770.1 1350.7,768.4 1351.8,739.7 1352.9,759.1 1354.0,757.8 1355.0,753.7 1356.1,751.2 1357.2,758.5 1358.3,763.0 1359.3,762.0 1360.4,772.4 1361.5,769.1 1362.6,753.6 1363.7,751.5 1364.7,767.6 1365.8,751.9 1366.9,761.3 1368.0,764.9 1369.1,769.5 1370.1,764.6 1371.2,772.6 1372.3,754.2 1373.4,766.1 1374.5,752.9 1375.5,762.7 1376.6,763.0 1377.7,754.3 1378.8,743.8 1379.9,775.1 1380.9,770.0 1382.0,768.6 1383.1,759.8 1384.2,763.5 1385.2,770.9 1386.3,766.2 1387.4,776.9 1388.5,766.8 1389.6,757.7 1390.6,773.5 1391.7,761.4 1392.8,771.7 1393.9,753.7 1395.0,767.6 1396.0,777.2 1397.1,765.4 1398.2,772.4 1399.3,779.1 1400.4,775.0 1401.4,791.8 1402.5,774.4 1403.6,776.6 1404.7,778.0 1405.8,762.2 1406.8,765.0 1407.9,784.8 1409.0,774.2 1410.1,789.6 1411.2,773.0 1412.2,769.8 1413.3,779.9 1414.4,770.5 1415.5,780.4 1416.5,752.7 1417.6,766.0 1418.7,767.2 1419.8,765.3 1420.9,770.8 1421.9,770.5 1423.0,761.3 1424.1,755.8 1425.2,773.1 1426.3,765.6 1427.3,777.1 1428.4,782.0 1429.5,773.5 1430.6,764.5 1431.7,772.2 1432.7,783.7 1433.8,773.2 1434.9,786.3 1436.0,774.8 1437.1,773.9 1438.1,764.2 1439.2,768.4 1440.3,778.9 1441.4,763.4 1442.4,763.0 1443.5,758.1 1444.6,774.4 1445.7,752.9 1446.8,761.4 1447.8,778.0 1448.9,783.1 1450.0,768.4 1451.1,779.9 1452.2,753.3 1453.2,778.4 1454.3,774.3 1455.4,759.4 1456.5,756.1 1457.6,769.1 1458.6,778.5 1459.7,781.1 1460.8,779.1 1461.9,787.5 1463.0,787.8 1464.0,768.0 1465.1,778.2 1466.2,778.3 1467.3,794.0 1468.3,779.5 1469.4,794.7 1470.5,786.6 1471.6,805.8 1472.7,785.4 1473.7,785.3 1474.8,782.8 1475.9,784.0 1477.0,801.3 1478.1,774.8 1479.1,770.4 1480.2,776.1 1481.3,783.1 1482.4,765.2 1483.5,782.5 1484.5,782.3 1485.6,773.2 1486.7,773.7 1487.8,769.0 1488.9,776.6 1489.9,772.7 1491.0,794.1 1492.1,797.9 1493.2,780.5 1494.2,783.8 1495.3,767.1 1496.4,778.7 1497.5,787.7 1498.6,787.9 1499.6,786.9 1500.7,795.7 1501.8,789.6 1502.9,785.1 1504.0,803.5 1505.0,770.5 1506.1,775.1 1507.2,777.6 1508.3,777.0 1509.4,776.9 1510.4,781.9 1511.5,777.0 1512.6,783.1 1513.7,790.1 1514.8,785.3 1515.8,787.7 1516.9,778.2 1518.0,778.4 1519.1,787.9 1520.1,801.1 1521.2,796.7 1522.3,803.7 1523.4,802.5 1524.5,802.6 1525.5,782.6 1526.6,801.4 1527.7,796.0 1528.8,805.1 1529.9,791.9 1530.9,788.6 1532.0,783.9 1533.1,787.6 1534.2,770.6 1535.3,783.9 1536.3,786.9 1537.4,798.1 1538.5,782.2 1539.6,791.1 1540.7,806.7 1541.7,785.7 1542.8,799.4 1543.9,786.4 1545.0,791.7 1546.1,798.2 1547.1,802.9 1548.2,789.2 1549.3,784.1 1550.4,807.2 1551.4,792.4 1552.5,796.9 1553.6,796.2 1554.7,793.9 1555.8,782.6 1556.8,783.7 1557.9,771.5 1559.0,787.8 1560.1,781.6 1561.2,784.9 1562.2,800.6 1563.3,789.8 1564.4,782.5 1565.5,767.9 1566.6,787.2 1567.6,794.3 1568.7,772.2 1569.8,785.5 1570.9,777.3 1572.0,782.3 1573.0,781.1 1574.1,770.6 1575.2,780.7 1576.3,771.2 1577.3,799.9 1578.4,798.3 1579.5,790.3 1580.6,794.2 1581.7,793.2 1582.7,795.6 1583.8,797.5 1584.9,794.9 1586.0,795.9 1587.1,785.5 1588.1,788.2 1589.2,791.8 1590.3,799.3 1591.4,793.0 1592.5,813.4 1593.5,796.3 1594.6,797.8 1595.7,809.1 1596.8,817.6 1597.9,827.2 1598.9,824.0 1600.0,813.9 1601.1,820.4 1602.2,832.3 1603.2,828.6 1604.3,834.6 1605.4,827.3 1606.5,840.8 1607.6,838.3 1608.6,834.5 1609.7,825.1 1610.8,807.6 1611.9,808.2 1613.0,823.8"/>
<polyline class="cv" stroke="#808000" points="319.0,862.4 320.1,869.9 321.2,825.5 322.2,850.6 323.3,865.7 324.4,871.6 325.5,866.9 326.6,878.7 327.6,867.6 328.7,873.9 329.8,871.7 330.9,857.9 332.0,861.6 333.0,876.0 334.1,862.7 335.2,884.7 336.3,884.4 337.3,888.6 338.4,867.1 339.5,882.4 340.6,855.7 341.7,857.2 342.7,868.8 343.8,871.9 344.9,850.9 346.0,850.6 347.1,873.8 348.1,858.5 349.2,882.5 350.3,872.2 351.4,868.9 352.5,866.5 353.5,873.1 354.6,859.2 355.7,873.4 356.8,853.5 357.9,856.7 358.9,852.0 360.0,869.4 361.1,865.0 362.2,856.0 363.2,889.0 364.3,864.2 365.4,867.8 366.5,874.8 367.6,888.8 368.6,867.1 369.7,876.5 370.8,867.9 371.9,849.2 373.0,874.9 374.0,877.4 375.1,861.7 376.2,864.4 377.3,848.4 378.4,849.2 379.4,861.9 380.5,875.6 381.6,861.9 382.7,871.6 383.8,879.5 384.8,870.1 385.9,876.3 387.0,886.8 388.1,855.6 389.1,879.8 390.2,850.8 391.3,876.3 392.4,873.1 393.5,863.6 394.5,856.4 395.6,868.1 396.7,863.7 397.8,871.4 398.9,859.8 399.9,878.1 401.0,859.3 402.1,868.2 403.2,866.2 404.3,885.9 405.3,852.9 406.4,864.4 407.5,882.0 408.6,859.7 409.7,852.9 410.7,870.4 411.8,862.6 412.9,876.3 414.0,853.9 415.0,867.9 416.1,873.8 417.2,878.4 418.3,853.3 419.4,884.3 420.4,857.9 421.5,853.1 422.6,859.6 423.7,872.6 424.8,866.3 425.8,874.5 426.9,874.3 428.0,871.7 429.1,864.6 430.2,888.1 431.2,845.8 432.3,850.1 433.4,864.1 434.5,856.0 435.6,844.8 436.6,859.5 437.7,859.2 438.8,842.6 439.9,875.5 440.9,879.2 442.0,877.3 443.1,856.1 444.2,864.5 445.3,849.8 446.3,866.6 447.4,857.8 448.5,872.8 449.6,864.2 450.7,882.5 451.7,881.1 452.8,886.3 453.9,854.2 455.0,853.0 456.1,877.8 457.1,866.2 458.2,879.0 459.3,877.9 460.4,875.4 461.5,883.2 462.5,877.4 463.6,874.1 464.7,855.7 465.8,884.2 466.9,864.1 467.9,874.9 469.0,864.7 470.1,874.9 471.2,861.1 472.2,861.8 473.3,862.1 474.4,852.5 475.5,855.5 476.6,863.4 477.6,865.5 478.7,857.4 479.8,894.3 480.9,859.6 482.0,867.9 483.0,896.7 484.1,863.6 485.2,880.0 486.3,877.0 487.4,865.6 488.4,851.1 489.5,849.3 490.6,866.7 491.7,871.2 492.8,842.6 493.8,866.0 494.9,855.0 496.0,871.9 497.1,862.2 498.1,848.9 499.2,852.7 500.3,859.9 501.4,876.4 502.5,890.1 503.5,870.0 504.6,868.3 505.7,875.5 506.8,867.3 507.9,875.3 508.9,871.8 510.0,865.4 511.1,855.5 512.2,867.7 513.3,877.9 514.3,869.9 515.4,888.2 516.5,884.5 517.6,873.3 518.7,895.9 519.7,864.3 520.8,891.0 521.9,895.1 523.0,870.5 524.0,869.8 525.1,880.0 526.2,881.8 527.3,868.3 528.4,863.1 529.4,869.2 530.5,860.6 531.6,841.9 532.7,854.8 533.8,856.9 534.8,839.5 535.9,862.5 537.0,848.5 538.1,867.2 539.2,842.4 540.2,850.5 541.3,846.2 542.4,880.2 543.5,882.7 544.6,885.9 545.6,886.9 546.7,882.1 547.8,881.7 548.9,849.5 549.9,870.6 551.0,857.7 552.1,857.4 553.2,845.1 554.3,872.9 555.3,859.2 556.4,839.7 557.5,864.2 558.6,857.4 559.7,847.9 560.7,859.4 561.8,856.3 562.9,844.6 564.0,852.1 565.1,876.8 566.1,875.0 567.2,874.9 568.3,856.7 569.4,862.3 570.5,869.6 571.5,877.8 572.6,860.5 573.7,859.2 574.8,886.6 575.8,875.2 576.9,870.0 578.0,866.2 579.1,867.0 580.2,891.4 581.2,883.8 582.3,866.0 583.4,855.4 584.5,887.9 585.6,885.4 586.6,880.7 587.7,877.3 588.8,847.1 589.9,852.4 591.0,873.3 592.0,862.5 593.1,867.4 594.2,855.3 595.3,851.5 596.4,865.3 597.4,853.5 598.5,859.5 599.6,863.5 600.7,864.0 601.8,878.1 602.8,883.6 603.9,855.1 605.0,870.9 606.1,867.4 607.1,886.0 608.2,865.1 609.3,887.8 610.4,885.7 611.5,882.7 612.5,861.6 613.6,869.2 614.7,858.1 615.8,875.4 616.9,881.8 617.9,852.3 619.0,859.6 620.1,867.4 621.2,861.4 622.3,884.0 623.3,863.8 624.4,868.5 625.5,852.0 626.6,883.3 627.7,867.5 628.7,875.5 629.8,865.9 630.9,841.6 632.0,845.4 633.0,848.5 634.1,870.8 635.2,858.8 636.3,871.7 637.4,871.6 638.4,871.9 639.5,880.8 640.6,871.5 641.7,849.5 642.8,857.5 643.8,883.6 644.9,850.5 646.0,877.8 647.1,880.4 648.2,854.7 649.2,867.3 650.3,847.6 651.4,875.1 652.5,857.4 653.6,853.6 654.6,865.3 655.7,865.3 656.8,863.6 657.9,873.3 658.9,868.7 660.0,862.4 661.1,882.8 662.2,895.7 663.3,874.9 664.3,867.5 665.4,865.0 666.5,885.1 667.6,874.3 668.7,878.1 669.7,855.0 670.8,860.6 671.9,857.6 673.0,880.2 674.1,863.5 675.1,840.9 676.2,871.5 677.3,879.3 678.4,882.2 679.5,842.2 680.5,871.5 681.6,879.2 682.7,876.0 683.8,865.4 684.8,847.2 685.9,860.3 687.0,859.7 688.1,869.5 689.2,868.2 690.2,856.6 691.3,870.0 692.4,845.7 693.5,849.7 694.6,858.3 695.6,866.0 696.7,853.4 697.8,872.4 698.9,864.5 700.0,849.8 701.0,865.5 702.1,856.8 703.2,859.7 704.3,857.7 705.4,892.4 706.4,889.2 707.5,861.2 708.6,892.8 709.7,890.7 710.7,873.8 711.8,884.3 712.9,900.9 714.0,880.5 715.1,881.6 716.1,888.9 717.2,861.8 718.3,857.5 719.4,853.7 720.5,867.3 721.5,878.3 722.6,857.1 723.7,850.8 724.8,868.3 725.9,860.4 726.9,871.4 728.0,860.8 729.1,859.1 730.2,859.5 731.3,860.9 732.3,849.4 733.4,848.6 734.5,881.7 735.6,893.6 736.7,881.0 737.7,850.6 738.8,871.1 739.9,884.9 741.0,852.4 742.0,864.4 743.1,863.2 744.2,855.3 745.3,854.3 746.4,875.6 747.4,860.1 748.5,864.9 749.6,885.7 750.7,865.1 751.8,860.5 752.8,886.3 753.9,900.5 755.0,885.8 756.1,887.4 757.2,871.6 758.2,873.4 759.3,893.7 760.4,889.9 761.5,881.9 762.6,867.6 763.6,860.5 764.7,859.2 765.8,855.3 766.9,869.9 767.9,854.8 769.0,855.2 770.1,864.7 771.2,863.2 772.3,855.4 773.3,856.8 774.4,849.5 775.5,831.0 776.6,843.0 777.7,836.9 778.7,835.0 779.8,837.7 780.9,827.2 782.0,841.3 783.1,826.2 784.1,827.7 785.2,827.4 786.3,820.7 787.4,828.4 788.5,828.9 789.5,826.9 790.6,812.2 791.7,808.9 792.8,810.4 793.8,815.4 794.9,797.2 796.0,804.7 797.1,801.2 798.2,804.0 799.2,800.9 800.3,816.9 801.4,812.0 802.5,815.5 803.6,795.2 804.6,796.1 805.7,798.4 806.8,803.1 807.9,792.1 809.0,775.8 810.0,769.7 811.1,767.2 812.2,741.2 813.3,746.1 814.4,762.7 815.4,761.0 816.5,746.2 817.6,771.7 818.7,768.7 819.7,766.5 820.8,746.3 821.9,756.9 823.0,771.0 824.1,763.0 825.1,765.8 826.2,753.5 827.3,769.2 828.4,751.8 829.5,761.4 830.5,753.9 831.6,739.7 832.7,763.8 833.8,736.1 834.9,740.8 835.9,749.5 837.0,734.1 838.1,729.7 839.2,743.7 840.3,739.7 841.3,740.3 842.4,747.5 843.5,760.2 844.6,735.3 845.6,758.6 846.7,740.6 847.8,736.9 848.9,716.5 850.0,723.9 851.0,740.1 852.1,742.1 853.2,727.5 854.3,738.0 855.4,742.7 856.4,726.9 857.5,716.7 858.6,721.4 859.7,728.0 860.8,734.8 861.8,739.7 862.9,721.9 864.0,730.6 865.1,726.4 866.2,727.7 867.2,737.0 868.3,737.6 869.4,717.4 870.5,714.2 871.6,712.2 872.6,713.1 873.7,712.8 874.8,714.3 875.9,710.2 876.9,704.7 878.0,704.4 879.1,717.2 880.2,738.1 881.3,723.2 882.3,725.6 883.4,723.9 884.5,719.6 885.6,740.8 886.7,719.1 887.7,711.7 888.8,707.9 889.9,720.4 891.0,705.2 892.1,703.5 893.1,700.6 894.2,693.8 895.3,706.6 896.4,688.0 897.5,725.6 898.5,683.6 899.6,694.3 900.7,710.8 901.8,716.5 902.8,709.8 903.9,716.5 905.0,714.5 906.1,712.5 907.2,715.9 908.2,711.1 909.3,706.5 910.4,705.1 911.5,715.6 912.6,704.4 913.6,711.9 914.7,722.6 915.8,711.4 916.9,720.3 918.0,704.3 919.0,713.4 920.1,716.9 921.2,715.6 922.3,718.7 923.4,726.9 924.4,708.6 925.5,703.9 926.6,712.8 927.7,693.6 928.7,707.4 929.8,718.7 930.9,706.4 932.0,712.6 933.1,710.8 934.1,719.4 935.2,711.9 936.3,707.8 937.4,679.8 938.5,697.3 939.5,709.1 940.6,699.3 941.7,692.3 942.8,709.0 943.9,689.5 944.9,694.9 946.0,706.0 947.1,694.1 948.2,702.7 949.3,702.2 950.3,691.2 951.4,699.7 952.5,702.0 953.6,699.7 954.6,716.9 955.7,705.1 956.8,698.6 957.9,691.0 959.0,701.1 960.0,717.6 961.1,699.7 962.2,709.4 963.3,704.8 964.4,692.9 965.4,687.5 966.5,702.2 967.6,679.4 968.7,700.6 969.8,681.7 970.8,701.6 971.9,688.3 973.0,691.2 974.1,702.5 975.2,680.8 976.2,691.8 977.3,690.1 978.4,700.4 979.5,704.5 980.5,702.2 981.6,703.0 982.7,698.2 983.8,710.9 984.9,702.6 985.9,708.4 987.0,710.0 988.1,694.9 989.2,696.7 990.3,710.4 991.3,707.5 992.4,719.4 993.5,685.3 994.6,707.7 995.7,716.5 996.7,706.5 997.8,713.5 998.9,704.8 1000.0,703.1 1001.1,711.9 1002.1,688.2 1003.2,679.9 1004.3,703.6 1005.4,699.0 1006.5,698.5 1007.5,699.9 1008.6,703.5 1009.7,692.2 1010.8,701.4 1011.8,700.5 1012.9,686.3 1014.0,697.4 1015.1,703.6 1016.2,693.4 1017.2,713.7 1018.3,700.7 1019.4,712.9 1020.5,718.7 1021.6,690.2 1022.6,692.2 1023.7,711.9 1024.8,703.5 1025.9,710.5 1027.0,721.2 1028.0,698.7 1029.1,712.4 1030.2,699.8 1031.3,694.8 1032.4,705.7 1033.4,702.5 1034.5,710.2 1035.6,701.8 1036.7,707.4 1037.7,704.3 1038.8,681.7 1039.9,693.7 1041.0,694.7 1042.1,708.7 1043.1,690.2 1044.2,705.3 1045.3,700.4 1046.4,689.7 1047.5,707.4 1048.5,716.6 1049.6,707.2 1050.7,721.3 1051.8,716.1 1052.9,714.5 1053.9,705.3 1055.0,708.7 1056.1,714.8 1057.2,709.3 1058.3,696.3 1059.3,707.0 1060.4,712.5 1061.5,720.1 1062.6,717.3 1063.6,698.5 1064.7,716.1 1065.8,693.9 1066.9,702.2 1068.0,700.2 1069.0,722.8 1070.1,713.3 1071.2,708.3 1072.3,696.9 1073.4,715.6 1074.4,699.9 1075.5,707.5 1076.6,714.5 1077.7,701.0 1078.8,711.2 1079.8,687.1 1080.9,711.6 1082.0,688.2 1083.1,708.4 1084.2,706.7 1085.2,709.4 1086.3,726.2 1087.4,686.3 1088.5,714.5 1089.5,706.5 1090.6,721.0 1091.7,717.4 1092.8,715.8 1093.9,709.1 1094.9,706.7 1096.0,717.2 1097.1,696.8 1098.2,722.4 1099.3,704.0 1100.3,715.2 1101.4,698.0 1102.5,716.3 1103.6,710.3 1104.7,721.8 1105.7,727.4 1106.8,710.4 1107.9,718.4 1109.0,719.9 1110.1,731.5 1111.1,703.4 1112.2,722.0 1113.3,714.8 1114.4,702.0 1115.4,711.2 1116.5,707.2 1117.6,725.7 1118.7,703.1 1119.8,722.0 1120.8,705.4 1121.9,715.9 1123.0,691.3 1124.1,698.7 1125.2,707.9 1126.2,696.2 1127.3,690.3 1128.4,704.7 1129.5,712.5 1130.6,703.0 1131.6,699.8 1132.7,705.3 1133.8,695.5 1134.9,710.1 1136.0,712.7 1137.0,689.7 1138.1,714.7 1139.2,712.8 1140.3,709.6 1141.4,713.5 1142.4,719.7 1143.5,722.0 1144.6,717.6 1145.7,696.9 1146.7,712.5 1147.8,682.7 1148.9,709.2 1150.0,708.8 1151.1,714.0 1152.1,697.5 1153.2,723.3 1154.3,723.2 1155.4,713.7 1156.5,698.2 1157.5,716.1 1158.6,702.9 1159.7,695.8 1160.8,703.3 1161.9,730.0 1162.9,693.9 1164.0,703.8 1165.1,707.0 1166.2,713.0 1167.3,691.3 1168.3,689.4 1169.4,704.9 1170.5,689.7 1171.6,682.3 1172.6,637.7 1173.7,635.9 1174.8,651.9 1175.9,661.6 1177.0,668.0 1178.0,693.9 1179.1,682.3 1180.2,694.0 1181.3,711.0 1182.4,712.8 1183.4,709.5 1184.5,713.5 1185.6,692.2 1186.7,701.8 1187.8,720.8 1188.8,731.4 1189.9,715.5 1191.0,700.9 1192.1,700.7 1193.2,723.3 1194.2,722.7 1195.3,700.2 1196.4,713.8 1197.5,726.2 1198.5,727.9 1199.6,710.2 1200.7,715.9 1201.8,724.9 1202.9,710.8 1203.9,708.1 1205.0,717.8 1206.1,738.7 1207.2,738.1 1208.3,732.4 1209.3,715.1 1210.4,709.8 1211.5,718.0 1212.6,728.6 1213.7,739.4 1214.7,720.3 1215.8,730.6 1216.9,712.7 1218.0,709.9 1219.1,729.0 1220.1,716.4 1221.2,717.5 1222.3,709.2 1223.4,738.3 1224.4,714.6 1225.5,732.4 1226.6,718.1 1227.7,728.6 1228.8,746.4 1229.8,736.4 1230.9,736.1 1232.0,744.9 1233.1,743.5 1234.2,754.0 1235.2,729.4 1236.3,759.1 1237.4,748.6 1238.5,739.3 1239.6,756.5 1240.6,756.6 1241.7,750.4 1242.8,759.0 1243.9,736.8 1245.0,734.5 1246.0,745.4 1247.1,763.5 1248.2,759.3 1249.3,755.5 1250.3,750.6 1251.4,759.1 1252.5,772.3 1253.6,756.6 1254.7,758.2 1255.7,770.3 1256.8,773.6 1257.9,768.7 1259.0,780.5 1260.1,766.3 1261.1,750.9 1262.2,738.1 1263.3,767.1 1264.4,751.9 1265.5,756.3 1266.5,757.3 1267.6,765.9 1268.7,763.7 1269.8,764.9 1270.9,759.0 1271.9,756.0 1273.0,764.3 1274.1,755.5 1275.2,770.2 1276.3,779.7 1277.3,777.5 1278.4,770.8 1279.5,758.3 1280.6,757.2 1281.6,757.3 1282.7,759.6 1283.8,767.7 1284.9,767.6 1286.0,768.1 1287.0,772.3 1288.1,751.9 1289.2,759.8 1290.3,768.6 1291.4,771.7 1292.4,757.1 1293.5,758.6 1294.6,779.1 1295.7,775.3 1296.8,772.8 1297.8,764.6 1298.9,757.2 1300.0,767.1 1301.1,771.9 1302.2,775.2 1303.2,781.1 1304.3,775.5 1305.4,788.7 1306.5,774.1 1307.5,783.4 1308.6,782.3 1309.7,765.0 1310.8,769.3 1311.9,777.4 1312.9,785.5 1314.0,788.2 1315.1,798.0 1316.2,784.8 1317.3,781.8 1318.3,788.6 1319.4,772.9 1320.5,783.6 1321.6,775.8 1322.7,787.6 1323.7,779.8 1324.8,783.1 1325.9,806.1 1327.0,799.1 1328.1,808.4 1329.1,788.0 1330.2,783.4 1331.3,776.2 1332.4,784.0 1333.4,767.0 1334.5,784.0 1335.6,776.7 1336.7,768.2 1337.8,764.4 1338.8,771.3 1339.9,776.8 1341.0,781.4 1342.1,767.5 1343.2,785.0 1344.2,790.5 1345.3,809.4 1346.4,794.4 1347.5,801.6 1348.6,785.2 1349.6,792.7 1350.7,785.1 1351.8,784.0 1352.9,797.3 1354.0,788.2 1355.0,804.4 1356.1,787.9 1357.2,792.2 1358.3,775.3 1359.3,776.0 1360.4,793.3 1361.5,779.1 1362.6,800.0 1363.7,779.5 1364.7,780.2 1365.8,808.2 1366.9,774.1 1368.0,785.6 1369.1,796.0 1370.1,796.8 1371.2,778.9 1372.3,810.4 1373.4,786.1 1374.5,773.4 1375.5,801.2 1376.6,787.0 1377.7,794.4 1378.8,802.3 1379.9,786.4 1380.9,787.3 1382.0,792.7 1383.1,801.3 1384.2,777.0 1385.2,803.0 1386.3,791.4 1387.4,775.2 1388.5,786.9 1389.6,793.7 1390.6,801.3 1391.7,798.5 1392.8,802.1 1393.9,789.7 1395.0,799.6 1396.0,770.9 1397.1,803.0 1398.2,791.1 1399.3,806.5 1400.4,784.1 1401.4,785.2 1402.5,791.5 1403.6,800.6 1404.7,796.2 1405.8,805.2 1406.8,797.4 1407.9,809.3 1409.0,823.6 1410.1,814.8 1411.2,809.2 1412.2,789.1 1413.3,810.2 1414.4,815.3 1415.5,802.4 1416.5,815.5 1417.6,784.3 1418.7,795.9 1419.8,792.1 1420.9,807.1 1421.9,793.2 1423.0,792.7 1424.1,817.9 1425.2,790.4 1426.3,812.5 1427.3,820.5 1428.4,807.1 1429.5,800.9 1430.6,808.8 1431.7,804.3 1432.7,801.0 1433.8,810.1 1434.9,804.5 1436.0,826.2 1437.1,812.6 1438.1,799.0 1439.2,801.8 1440.3,811.1 1441.4,807.9 1442.4,797.3 1443.5,790.6 1444.6,818.4 1445.7,803.1 1446.8,807.1 1447.8,820.0 1448.9,809.6 1450.0,820.7 1451.1,803.4 1452.2,807.4 1453.2,803.0 1454.3,822.7 1455.4,788.0 1456.5,799.7 1457.6,792.7 1458.6,795.2 1459.7,789.9 1460.8,794.0 1461.9,815.9 1463.0,818.2 1464.0,796.6 1465.1,791.3 1466.2,797.9 1467.3,819.5 1468.3,802.9 1469.4,785.0 1470.5,814.2 1471.6,805.3 1472.7,813.3 1473.7,811.1 1474.8,794.1 1475.9,817.4 1477.0,814.1 1478.1,800.2 1479.1,789.1 1480.2,800.1 1481.3,802.6 1482.4,824.3 1483.5,813.5 1484.5,817.4 1485.6,823.3 1486.7,818.2 1487.8,827.2 1488.9,825.5 1489.9,832.2 1491.0,810.2 1492.1,826.6 1493.2,819.7 1494.2,842.6 1495.3,837.5 1496.4,817.7 1497.5,831.0 1498.6,803.0 1499.6,808.0 1500.7,814.7 1501.8,818.9 1502.9,804.2 1504.0,815.2 1505.0,827.5 1506.1,799.5 1507.2,801.9 1508.3,797.2 1509.4,827.9 1510.4,804.6 1511.5,812.3 1512.6,807.3 1513.7,815.5 1514.8,812.4 1515.8,816.8 1516.9,816.1 1518.0,829.7 1519.1,804.6 1520.1,816.5 1521.2,814.5 1522.3,807.0 1523.4,825.1 1524.5,832.9 1525.5,802.9 1526.6,835.7 1527.7,812.1 1528.8,812.4 1529.9,791.4 1530.9,814.5 1532.0,812.8 1533.1,812.3 1534.2,823.7 1535.3,816.4 1536.3,822.9 1537.4,812.6 1538.5,809.5 1539.6,823.1 1540.7,829.1 1541.7,831.1 1542.8,824.8 1543.9,817.0 1545.0,825.2 1546.1,821.3 1547.1,809.7 1548.2,824.8 1549.3,817.8 1550.4,805.6 1551.4,812.2 1552.5,820.5 1553.6,828.0 1554.7,795.1 1555.8,808.0 1556.8,818.5 1557.9,825.9 1559.0,819.7 1560.1,806.0 1561.2,812.3 1562.2,819.0 1563.3,811.9 1564.4,810.2 1565.5,809.7 1566.6,845.1 1567.6,822.9 1568.7,819.7 1569.8,830.1 1570.9,822.9 1572.0,819.5 1573.0,822.7 1574.1,811.5 1575.2,814.5 1576.3,827.1 1577.3,822.9 1578.4,803.9 1579.5,829.0 1580.6,808.8 1581.7,797.3 1582.7,820.0 1583.8,820.3 1584.9,817.4 1586.0,803.9 1587.1,826.8 1588.1,820.6 1589.2,819.3 1590.3,819.1 1591.4,822.0 1592.5,839.1 1593.5,816.1 1594.6,825.6 1595.7,834.4 1596.8,831.0 1597.9,813.7 1598.9,818.8 1600.0,815.6 1601.1,804.1 1602.2,816.2 1603.2,827.5 1604.3,820.4 1605.4,828.7 1606.5,821.6 1607.6,808.6 1608.6,821.4 1609.7,797.9 1610.8,825.6 1611.9,807.5 1613.0,827.0"/>
</g>
<g id="axes">
<path class="ax" d="M318.1,59.800000000000004 V1031.8"/>
<path class="tk" d="M314.6,1028.5 H1617.5"/>
<path class="tk" d="M296.6,63.1 H318.1"/>
<text class="tick" transform="translate(288.0,84.7) scale(1.0,1.028)" text-anchor="end">100</text>
<path class="tk" d="M296.6,224.0 H318.1"/>
<text class="tick" transform="translate(288.0,245.6) scale(1.0,1.028)" text-anchor="end">80</text>
<path class="tk" d="M296.6,384.9 H318.1"/>
<text class="tick" transform="translate(288.0,406.5) scale(1.0,1.028)" text-anchor="end">60</text>
<path class="tk" d="M296.6,545.8 H318.1"/>
<text class="tick" transform="translate(288.0,567.4) scale(1.0,1.028)" text-anchor="end">40</text>
<path class="tk" d="M296.6,706.7 H318.1"/>
<text class="tick" transform="translate(288.0,728.3) scale(1.0,1.028)" text-anchor="end">20</text>
<path class="tk" d="M296.6,867.6 H318.1"/>
<text class="tick" transform="translate(288.0,889.2) scale(1.0,1.028)" text-anchor="end">0</text>
<path class="tk" d="M296.6,1028.5 H318.1"/>
<text class="tick" transform="translate(288.0,1050.1) scale(1.0,1.028)" text-anchor="end">-20</text>
<path class="tk" d="M306.1,143.6 H318.1"/>
<path class="tk" d="M306.1,304.5 H318.1"/>
<path class="tk" d="M306.1,465.4 H318.1"/>
<path class="tk" d="M306.1,626.2 H318.1"/>
<path class="tk" d="M306.1,787.1 H318.1"/>
<path class="tk" d="M306.1,948.1 H318.1"/>
<path class="ax" d="M318.1,1028.5 V1049.5"/>
<text class="tick" transform="translate(317.1,1116.5) scale(1.0,1.028)" text-anchor="middle">-200</text>
<path class="ax" d="M750.1,1028.5 V1049.5"/>
<text class="tick" transform="translate(749.1,1116.5) scale(1.0,1.028)" text-anchor="middle">0</text>
<path class="ax" d="M1182.0,1028.5 V1049.5"/>
<text class="tick" transform="translate(1181.0,1116.5) scale(1.0,1.028)" text-anchor="middle">200</text>
<path class="ax" d="M1614.0,1028.5 V1049.5"/>
<text class="tick" transform="translate(1613.0,1116.5) scale(1.0,1.028)" text-anchor="middle">400</text>
<path class="ax" d="M534.1,1028.5 V1040.0"/>
<path class="ax" d="M966.1,1028.5 V1040.0"/>
<path class="ax" d="M1398.0,1028.5 V1040.0"/>
</g>
<text class="lab" transform="translate(959.5,1238.0) scale(0.992,1.028)" text-anchor="middle">Time</text>
<text class="lab" transform="translate(101.0,564.6) rotate(-90) scale(1.007,1.028)" text-anchor="middle">Resonance Units (Ru)</text>
<g id="legend">
<path d="M1356.5,79.0 H1491.5" stroke="#000000" stroke-width="7" fill="none"/>
<text class="leg" transform="translate(1504.5,98.2) scale(1,0.985)" style="white-space:pre">5 <tspan class="mu" dx="2.3">µ</tspan><tspan class="legm" dx="-1.9">M</tspan></text>
<path d="M1356.5,166.3 H1491.5" stroke="#ea2428" stroke-width="7" fill="none"/>
<text class="leg" transform="translate(1504.5,185.5) scale(1,0.985)" style="white-space:pre">2.5 <tspan class="mu" dx="2.3">µ</tspan><tspan class="legm" dx="-1.9">M</tspan></text>
<path d="M1356.5,253.6 H1491.5" stroke="#2418d2" stroke-width="7" fill="none"/>
<text class="leg" transform="translate(1504.5,272.8) scale(1,0.985)" style="white-space:pre">1.25 <tspan class="mu" dx="2.3">µ</tspan><tspan class="legm" dx="-1.9">M</tspan></text>
<path d="M1356.5,340.9 H1491.5" stroke="#088880" stroke-width="7" fill="none"/>
<text class="leg" transform="translate(1504.5,360.1) scale(1,0.985)" style="white-space:pre">0.625 <tspan class="mu" dx="2.3">µ</tspan><tspan class="legm" dx="-1.9">M</tspan></text>
<path d="M1356.5,428.2 H1491.5" stroke="#ff18d8" stroke-width="7" fill="none"/>
<text class="leg" transform="translate(1504.5,447.4) scale(1,0.985)" style="white-space:pre">0.3125  <tspan class="mu" dx="2.3">µ</tspan><tspan class="legm" dx="-1.9">M</tspan></text>
<path d="M1356.5,515.5 H1491.5" stroke="#828a24" stroke-width="7" fill="none"/>
<text class="leg" transform="translate(1504.5,534.7) scale(1,0.985)" style="white-space:pre">0.15625 <tspan class="mu" dx="2.3">µ</tspan><tspan class="legm" dx="-1.9">M</tspan></text>
</g>
</svg>
</body>
</html>
